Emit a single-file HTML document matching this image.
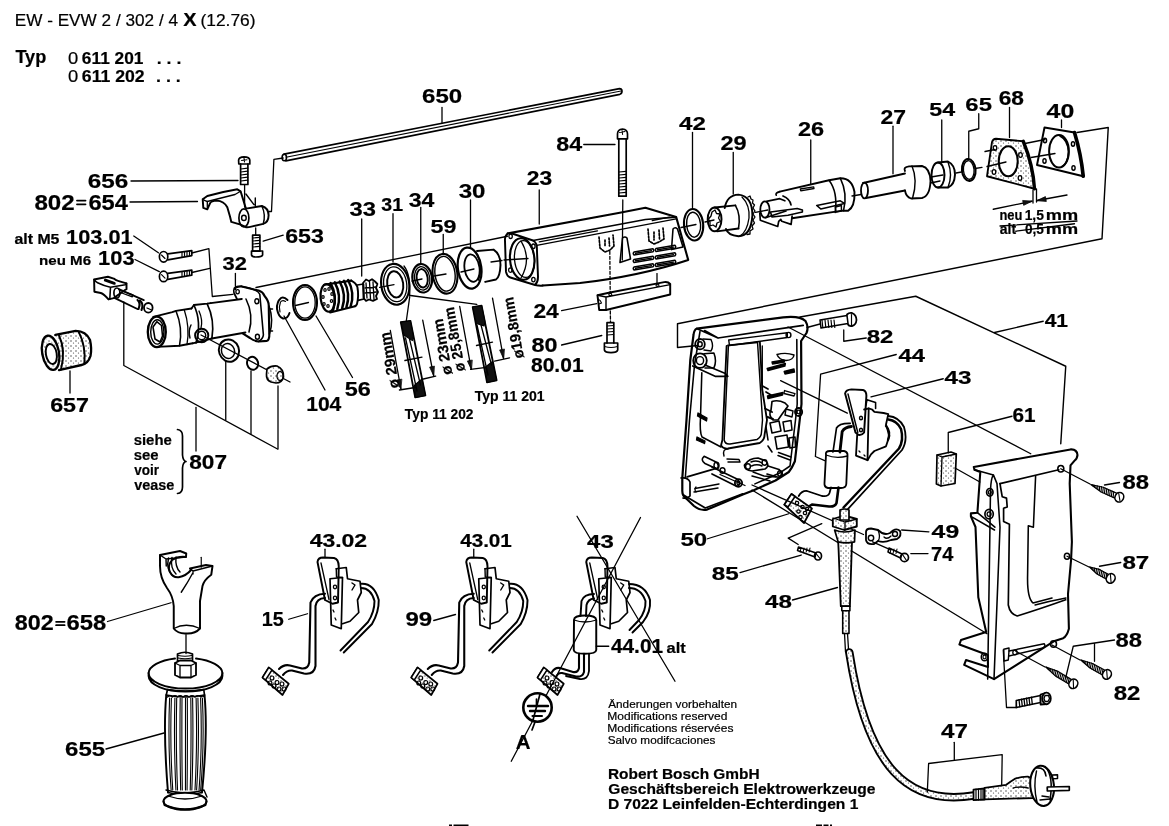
<!DOCTYPE html>
<html><head><meta charset="utf-8"><style>
html,body{margin:0;padding:0;background:#fff;overflow:hidden;}
svg{display:block; will-change:transform;}
text{font-family:"Liberation Sans", sans-serif; fill:#000; stroke:#000; stroke-width:0.2px;}
</style></head><body>
<svg width="1169" height="826" viewBox="0 0 1169 826" stroke="#000" fill="none" stroke-linecap="round" stroke-linejoin="round">
<defs>
<pattern id="dots" width="5" height="5" patternUnits="userSpaceOnUse">
<rect width="5" height="5" fill="#fff" stroke="none"/>
<circle cx="1" cy="1" r="0.7" fill="#333" stroke="none"/>
<circle cx="3.5" cy="3" r="0.6" fill="#444" stroke="none"/>
</pattern>
</defs>
<rect width="1169" height="826" fill="#fff" stroke="none"/>
<text x="14.69" y="26.10" font-size="17" font-weight="400" textLength="163.31" lengthAdjust="spacingAndGlyphs" >EW - EVW 2 / 302 / 4</text>
<text x="183.32" y="26.10" font-size="17.5" font-weight="700" textLength="13.35" lengthAdjust="spacingAndGlyphs" >X</text>
<text x="200.42" y="26.10" font-size="17" font-weight="400" textLength="55.16" lengthAdjust="spacingAndGlyphs" dy="0">(12.76)</text>
<text x="15.40" y="62.80" font-size="17.5" font-weight="700" textLength="30.91" lengthAdjust="spacingAndGlyphs" >Typ</text>
<text x="67.98" y="63.90" font-size="17" font-weight="400" textLength="10.24" lengthAdjust="spacingAndGlyphs" >0</text>
<text x="81.88" y="63.90" font-size="17" font-weight="700" textLength="61.50" lengthAdjust="spacingAndGlyphs" >611 201</text>
<text x="67.98" y="82.30" font-size="17" font-weight="400" textLength="10.24" lengthAdjust="spacingAndGlyphs" >0</text>
<text x="81.86" y="82.30" font-size="17" font-weight="700" textLength="62.83" lengthAdjust="spacingAndGlyphs" >611 202</text>
<text x="156.70" y="63.90" font-size="17" font-weight="700" textLength="24.62" lengthAdjust="spacingAndGlyphs" >. . .</text>
<text x="156.09" y="82.30" font-size="17" font-weight="700" textLength="24.73" lengthAdjust="spacingAndGlyphs" >. . .</text>
<text x="87.86" y="187.50" font-size="20.1" font-weight="700" textLength="40.52" lengthAdjust="spacingAndGlyphs" >656</text>
<text x="34.43" y="210.00" font-size="21.5" font-weight="700" textLength="40.23" lengthAdjust="spacingAndGlyphs" >802</text>
<text x="88.43" y="210.00" font-size="21.5" font-weight="700" textLength="39.49" lengthAdjust="spacingAndGlyphs" >654</text>
<line x1="77" y1="200.6" x2="85.5" y2="200.6" stroke-width="1.82"/>
<line x1="77" y1="204.3" x2="85.5" y2="204.3" stroke-width="1.82"/>
<text x="14.54" y="243.75" font-size="14.1" font-weight="700" textLength="44.91" lengthAdjust="spacingAndGlyphs" >alt M5</text>
<text x="66.13" y="243.75" font-size="20.1" font-weight="700" textLength="66.47" lengthAdjust="spacingAndGlyphs" >103.01</text>
<text x="39.00" y="265.00" font-size="13.1" font-weight="700" textLength="52.04" lengthAdjust="spacingAndGlyphs" >neu M6</text>
<text x="98.13" y="265.00" font-size="19.4" font-weight="700" textLength="36.41" lengthAdjust="spacingAndGlyphs" >103</text>
<text x="222.50" y="269.50" font-size="17.7" font-weight="700" textLength="24.38" lengthAdjust="spacingAndGlyphs" >32</text>
<text x="422.12" y="102.50" font-size="20.5" font-weight="700" textLength="40.12" lengthAdjust="spacingAndGlyphs" >650</text>
<text x="285.15" y="242.50" font-size="20.5" font-weight="700" textLength="38.69" lengthAdjust="spacingAndGlyphs" >653</text>
<text x="349.46" y="216.25" font-size="19.4" font-weight="700" textLength="26.40" lengthAdjust="spacingAndGlyphs" >33</text>
<text x="381.30" y="210.75" font-size="18.7" font-weight="700" textLength="21.74" lengthAdjust="spacingAndGlyphs" >31</text>
<text x="408.72" y="206.75" font-size="20.1" font-weight="700" textLength="25.65" lengthAdjust="spacingAndGlyphs" >34</text>
<text x="430.54" y="232.50" font-size="18.7" font-weight="700" textLength="25.83" lengthAdjust="spacingAndGlyphs" >59</text>
<text x="458.70" y="198.25" font-size="19.4" font-weight="700" textLength="26.79" lengthAdjust="spacingAndGlyphs" >30</text>
<text x="526.71" y="185.00" font-size="20.1" font-weight="700" textLength="25.36" lengthAdjust="spacingAndGlyphs" >23</text>
<text x="556.26" y="150.50" font-size="20.1" font-weight="700" textLength="25.86" lengthAdjust="spacingAndGlyphs" >84</text>
<text x="679.13" y="129.50" font-size="18.7" font-weight="700" textLength="26.83" lengthAdjust="spacingAndGlyphs" >42</text>
<text x="720.43" y="150.00" font-size="19.4" font-weight="700" textLength="26.19" lengthAdjust="spacingAndGlyphs" >29</text>
<text x="797.93" y="136.25" font-size="19.4" font-weight="700" textLength="26.17" lengthAdjust="spacingAndGlyphs" >26</text>
<text x="880.45" y="123.75" font-size="19.4" font-weight="700" textLength="25.56" lengthAdjust="spacingAndGlyphs" >27</text>
<text x="929.29" y="116.25" font-size="18.7" font-weight="700" textLength="25.84" lengthAdjust="spacingAndGlyphs" >54</text>
<text x="965.38" y="111.25" font-size="18.7" font-weight="700" textLength="26.54" lengthAdjust="spacingAndGlyphs" >65</text>
<text x="998.67" y="105.00" font-size="19.4" font-weight="700" textLength="25.28" lengthAdjust="spacingAndGlyphs" >68</text>
<text x="1046.62" y="117.50" font-size="19.4" font-weight="700" textLength="27.65" lengthAdjust="spacingAndGlyphs" >40</text>
<text x="999.40" y="220.00" font-size="14" font-weight="700" textLength="22.95" lengthAdjust="spacingAndGlyphs" >neu</text>
<text x="1024.63" y="220.00" font-size="14" font-weight="700" textLength="19.26" lengthAdjust="spacingAndGlyphs" >1,5</text>
<text x="1045.80" y="220.00" font-size="14" font-weight="700" textLength="32.33" lengthAdjust="spacingAndGlyphs" >mm</text>
<text x="999.84" y="234.25" font-size="14" font-weight="700" textLength="16.33" lengthAdjust="spacingAndGlyphs" >alt</text>
<text x="1024.96" y="234.25" font-size="14" font-weight="700" textLength="18.92" lengthAdjust="spacingAndGlyphs" >0,5</text>
<text x="1045.80" y="234.25" font-size="14" font-weight="700" textLength="32.33" lengthAdjust="spacingAndGlyphs" >mm</text>
<text x="50.15" y="411.75" font-size="19.4" font-weight="700" textLength="38.88" lengthAdjust="spacingAndGlyphs" >657</text>
<text x="306.17" y="410.50" font-size="20.1" font-weight="700" textLength="35.19" lengthAdjust="spacingAndGlyphs" >104</text>
<text x="344.78" y="396.25" font-size="19.4" font-weight="700" textLength="26.07" lengthAdjust="spacingAndGlyphs" >56</text>
<text x="133.73" y="445.00" font-size="14" font-weight="700" textLength="38.03" lengthAdjust="spacingAndGlyphs" >siehe</text>
<text x="133.73" y="460.00" font-size="14" font-weight="700" textLength="24.78" lengthAdjust="spacingAndGlyphs" >see</text>
<text x="134.20" y="475.00" font-size="14" font-weight="700" textLength="24.76" lengthAdjust="spacingAndGlyphs" >voir</text>
<text x="134.19" y="490.00" font-size="14" font-weight="700" textLength="40.05" lengthAdjust="spacingAndGlyphs" >vease</text>
<text x="189.28" y="468.75" font-size="19.4" font-weight="700" textLength="37.71" lengthAdjust="spacingAndGlyphs" >807</text>
<text x="533.41" y="318.10" font-size="19.4" font-weight="700" textLength="25.41" lengthAdjust="spacingAndGlyphs" >24</text>
<text x="531.46" y="352.30" font-size="20.1" font-weight="700" textLength="26.00" lengthAdjust="spacingAndGlyphs" >80</text>
<text x="531.03" y="371.50" font-size="19.9" font-weight="700" textLength="52.55" lengthAdjust="spacingAndGlyphs" >80.01</text>
<text x="404.85" y="419.25" font-size="15" font-weight="700" textLength="68.69" lengthAdjust="spacingAndGlyphs" >Typ 11 202</text>
<text x="474.65" y="400.80" font-size="15" font-weight="700" textLength="70.03" lengthAdjust="spacingAndGlyphs" >Typ 11 201</text>
<text x="866.74" y="342.50" font-size="18.4" font-weight="700" textLength="26.72" lengthAdjust="spacingAndGlyphs" >82</text>
<text x="898.64" y="361.50" font-size="18.4" font-weight="700" textLength="26.49" lengthAdjust="spacingAndGlyphs" >44</text>
<text x="944.63" y="384.25" font-size="18.4" font-weight="700" textLength="26.99" lengthAdjust="spacingAndGlyphs" >43</text>
<text x="1044.68" y="327.00" font-size="18.7" font-weight="700" textLength="23.40" lengthAdjust="spacingAndGlyphs" >41</text>
<text x="1012.49" y="422.00" font-size="19.4" font-weight="700" textLength="23.09" lengthAdjust="spacingAndGlyphs" >61</text>
<text x="1122.49" y="488.75" font-size="19.4" font-weight="700" textLength="26.49" lengthAdjust="spacingAndGlyphs" >88</text>
<text x="1122.48" y="568.75" font-size="18.7" font-weight="700" textLength="26.83" lengthAdjust="spacingAndGlyphs" >87</text>
<text x="931.63" y="538.25" font-size="18.7" font-weight="700" textLength="27.54" lengthAdjust="spacingAndGlyphs" >49</text>
<text x="931.14" y="561.25" font-size="19.4" font-weight="700" textLength="22.22" lengthAdjust="spacingAndGlyphs" >74</text>
<text x="1115.49" y="646.75" font-size="20.1" font-weight="700" textLength="26.49" lengthAdjust="spacingAndGlyphs" >88</text>
<text x="1113.74" y="700.00" font-size="19.4" font-weight="700" textLength="26.72" lengthAdjust="spacingAndGlyphs" >82</text>
<text x="941.13" y="737.50" font-size="20.1" font-weight="700" textLength="26.93" lengthAdjust="spacingAndGlyphs" >47</text>
<text x="680.51" y="545.50" font-size="18.7" font-weight="700" textLength="26.72" lengthAdjust="spacingAndGlyphs" >50</text>
<text x="711.73" y="579.50" font-size="18.7" font-weight="700" textLength="26.94" lengthAdjust="spacingAndGlyphs" >85</text>
<text x="765.13" y="607.50" font-size="18.4" font-weight="700" textLength="26.86" lengthAdjust="spacingAndGlyphs" >48</text>
<text x="309.65" y="546.75" font-size="18.4" font-weight="700" textLength="57.52" lengthAdjust="spacingAndGlyphs" >43.02</text>
<text x="460.19" y="546.75" font-size="18.4" font-weight="700" textLength="51.64" lengthAdjust="spacingAndGlyphs" >43.01</text>
<text x="261.75" y="626.25" font-size="19.4" font-weight="700" textLength="22.05" lengthAdjust="spacingAndGlyphs" >15</text>
<text x="405.42" y="626.25" font-size="19.4" font-weight="700" textLength="26.72" lengthAdjust="spacingAndGlyphs" >99</text>
<text x="587.14" y="547.50" font-size="18.7" font-weight="700" textLength="26.73" lengthAdjust="spacingAndGlyphs" >43</text>
<text x="610.93" y="652.50" font-size="19.4" font-weight="700" textLength="52.15" lengthAdjust="spacingAndGlyphs" >44.01</text>
<text x="666.52" y="652.50" font-size="14" font-weight="700" textLength="19.18" lengthAdjust="spacingAndGlyphs" >alt</text>
<text x="14.86" y="629.90" font-size="21.2" font-weight="700" textLength="38.87" lengthAdjust="spacingAndGlyphs" >802</text>
<text x="66.53" y="629.90" font-size="21.2" font-weight="700" textLength="39.70" lengthAdjust="spacingAndGlyphs" >658</text>
<line x1="56.1" y1="621.8" x2="64.6" y2="621.8" stroke-width="1.82"/>
<line x1="56.1" y1="625.2" x2="64.6" y2="625.2" stroke-width="1.82"/>
<text x="65.12" y="756.25" font-size="20.5" font-weight="700" textLength="40.05" lengthAdjust="spacingAndGlyphs" >655</text>
<text x="515.74" y="748.75" font-size="21" font-weight="700" textLength="14.80" lengthAdjust="spacingAndGlyphs" >A</text>
<text x="608.23" y="707.50" font-size="11" font-weight="400" textLength="128.79" lengthAdjust="spacingAndGlyphs" >Änderungen vorbehalten</text>
<text x="607.26" y="719.50" font-size="11" font-weight="400" textLength="120.26" lengthAdjust="spacingAndGlyphs" >Modifications reserved</text>
<text x="607.26" y="731.75" font-size="11" font-weight="400" textLength="126.17" lengthAdjust="spacingAndGlyphs" >Modifications réservées</text>
<text x="607.72" y="744.25" font-size="11" font-weight="400" textLength="107.71" lengthAdjust="spacingAndGlyphs" >Salvo modifcaciones</text>
<text x="607.97" y="778.70" font-size="14" font-weight="700" textLength="151.67" lengthAdjust="spacingAndGlyphs" >Robert Bosch GmbH</text>
<text x="608.36" y="793.90" font-size="14" font-weight="700" textLength="267.17" lengthAdjust="spacingAndGlyphs" >Geschäftsbereich Elektrowerkzeuge</text>
<text x="607.96" y="809.30" font-size="14" font-weight="700" textLength="250.38" lengthAdjust="spacingAndGlyphs" >D 7022 Leinfelden-Echterdingen 1</text>
<rect x="449" y="824.5" width="3" height="1.5" fill="#000" stroke="none"/>
<rect x="453.5" y="824.5" width="15" height="1.5" fill="#000" stroke="none"/>
<rect x="816" y="824.5" width="6" height="1.5" fill="#000" stroke="none"/>
<rect x="823.5" y="824.5" width="5" height="1.5" fill="#000" stroke="none"/>
<rect x="830" y="824.5" width="2" height="1.5" fill="#000" stroke="none"/>
<line x1="131" y1="181" x2="238" y2="180.5" stroke-width="1.30"/>
<line x1="130" y1="202" x2="197.5" y2="201.5" stroke-width="1.30"/>
<path d="M238.8,164 L238.6,160 Q239,157 244,156.8 Q249.5,157 249.8,160 L249.8,164 Z" stroke-width="1.69" fill="none" />
<path d="M240.6,164 L240.6,184.5 L247.9,184.5 L247.9,164" stroke-width="1.69" fill="none" />
<line x1="240.8" y1="169" x2="247.7" y2="168.2" stroke-width="1.17"/>
<line x1="240.8" y1="172" x2="247.7" y2="171.2" stroke-width="1.17"/>
<line x1="240.8" y1="175" x2="247.7" y2="174.2" stroke-width="1.17"/>
<line x1="240.8" y1="178" x2="247.7" y2="177.2" stroke-width="1.17"/>
<line x1="240.8" y1="181" x2="247.7" y2="180.2" stroke-width="1.17"/>
<path d="M241.5,160.5 L247,159.8 M244,158 L244.5,162" stroke-width="1.04" fill="none" />
<line x1="244.6" y1="185" x2="244.6" y2="207" stroke-width="1.30"/>
<path d="M202.7,199.3 L207.3,196 L223.3,192 L237.3,189.3 L240.6,191.3 L245.9,208.6 L261.9,206 Q268.5,208 268.6,215.3 Q268.5,222.5 263.2,223.9 L251.3,226.6 Q248,227.5 245.9,227.2 L240.6,224.6 L231.3,221.9 L230,216.6 L227.3,207.3 Q224,201 216.6,200.6 Q211,201 210,203.3 L207.3,209.3 L203.3,207.9 Z" stroke-width="1.95" fill="none" />
<path d="M202.7,199.3 Q205,201 207.3,201.5 L235,194.5 L240.6,191.3" stroke-width="1.30" fill="none" />
<path d="M207.3,201.5 L207.3,209.3" stroke-width="1.30" fill="none" />
<ellipse cx="243.9" cy="217.9" rx="5" ry="9" stroke-width="1.69" fill="none"/>
<ellipse cx="243.9" cy="217.9" rx="2.3" ry="2.6" stroke-width="1.43" fill="none"/>
<path d="M261.9,206 Q266,215 263.2,223.9" stroke-width="1.43" fill="none" />
<path d="M245.9,194 L253.9,204.6 M255.3,198 L255.3,206" stroke-width="1.43" fill="none" />
<path d="M283.2,158 L273.9,159.3 L271.5,211.5 L269.2,211.5" stroke-width="1.30" fill="none" />
<line x1="255.7" y1="228" x2="255.7" y2="235" stroke-width="1.30"/>
<path d="M252.6,235.2 L252.6,251.2 L259.9,251.2 L259.9,235.2 Z" stroke-width="1.69" fill="none" />
<line x1="252.8" y1="238" x2="259.7" y2="237.4" stroke-width="1.17"/>
<line x1="252.8" y1="241" x2="259.7" y2="240.4" stroke-width="1.17"/>
<line x1="252.8" y1="244" x2="259.7" y2="243.4" stroke-width="1.17"/>
<line x1="252.8" y1="247" x2="259.7" y2="246.4" stroke-width="1.17"/>
<path d="M251.5,251 L251.5,255 Q252,257 256,257 Q262,257 262.6,255 L262.6,251 Z" stroke-width="1.69" fill="none" />
<line x1="263.2" y1="241.2" x2="283.2" y2="235.2" stroke-width="1.30"/>
<path d="M284,154.2 L619.5,88.6 Q621.8,88.6 622,91 Q622,93.6 619.8,94.3 L285.8,160.8" stroke-width="1.69" fill="none" />
<ellipse cx="284.3" cy="157.5" rx="2.2" ry="3.3" stroke-width="1.56" fill="none"/>
<line x1="286" y1="157.2" x2="621" y2="90.9" stroke-width="1.04"/>
<line x1="442" y1="107.5" x2="442" y2="122.5" stroke-width="1.30"/>
<line x1="133.75" y1="236" x2="158.4" y2="252.8" stroke-width="1.30"/>
<line x1="135" y1="259.5" x2="159.3" y2="271.6" stroke-width="1.30"/>
<ellipse cx="163.6" cy="256.8" rx="4.2" ry="5.3" stroke-width="1.69" fill="none"/>
<path d="M167.8,253.8 L191.8,250.6 L191.8,255.6 L167.8,259.8" stroke-width="1.69" fill="none" />
<line x1="182" y1="252.074" x2="182" y2="256.574" stroke-width="1.17"/>
<line x1="184.5" y1="251.74900000000002" x2="184.5" y2="256.249" stroke-width="1.17"/>
<line x1="187" y1="251.424" x2="187" y2="255.92400000000004" stroke-width="1.17"/>
<line x1="189.5" y1="251.09900000000002" x2="189.5" y2="255.599" stroke-width="1.17"/>
<path d="M161.5,255 L165,258.5" stroke-width="1.17" fill="none" />
<ellipse cx="163.6" cy="276.40000000000003" rx="4.2" ry="5.3" stroke-width="1.69" fill="none"/>
<path d="M167.8,273.40000000000003 L191.8,270.2 L191.8,275.2 L167.8,279.40000000000003" stroke-width="1.69" fill="none" />
<line x1="182" y1="271.67400000000004" x2="182" y2="276.17400000000004" stroke-width="1.17"/>
<line x1="184.5" y1="271.34900000000005" x2="184.5" y2="275.84900000000005" stroke-width="1.17"/>
<line x1="187" y1="271.02400000000006" x2="187" y2="275.52400000000006" stroke-width="1.17"/>
<line x1="189.5" y1="270.699" x2="189.5" y2="275.199" stroke-width="1.17"/>
<path d="M161.5,274.6 L165,278.1" stroke-width="1.17" fill="none" />
<path d="M191.8,253 L208.9,248.6 L212.3,296.5 L232.9,294.4" stroke-width="1.30" fill="none" />
<line x1="191.8" y1="272.5" x2="209.8" y2="268.4" stroke-width="1.30"/>
<line x1="235.4" y1="273.4" x2="235.4" y2="289.6" stroke-width="1.30"/>
<path d="M234.6,288.2 Q237,286 241.8,286.4 L258.6,290.6 Q263,292 264.6,296 Q268.7,301 268.7,305 L269.3,336.1 Q269,340 266.9,340.9 L258.6,341.5 Q254,341 250,338 L243,333.7" stroke-width="2.08" fill="none" />
<path d="M241.8,286.4 Q250,287.5 255,290 Q259,292 259.8,294.2 L263.4,334.9 Q263,339 258.6,341.5" stroke-width="1.56" fill="none" />
<path d="M234.6,288.2 Q233,290 234,293 L237,299" stroke-width="1.69" fill="none" />
<ellipse cx="237.6" cy="291.8" rx="1.7" ry="2.1" stroke-width="1.30" fill="none"/>
<ellipse cx="256.8" cy="301.3" rx="2.0" ry="2.5" stroke-width="1.43" fill="none"/>
<ellipse cx="257.4" cy="336.7" rx="2.0" ry="2.5" stroke-width="1.43" fill="none"/>
<path d="M269,306 Q274,320 269.5,334 M270.5,309 L272.5,309 M270.5,331 L272.5,331" stroke-width="1.56" fill="none" />
<path d="M210.7,303.1 L241.8,299 M211.9,338.5 L245.4,332.5" stroke-width="1.95" fill="none" />
<path d="M246,299 Q254,315 249,332" stroke-width="1.56" fill="none" />
<path d="M191.5,308.5 L193.9,305 L207.1,303.7 L210.7,303.1 M192.7,343.3 L211.9,338.5" stroke-width="1.82" fill="none" />
<path d="M193.9,305 Q202,322 196,343 M207.1,303.7 Q215,320 211.9,338.5" stroke-width="1.69" fill="none" />
<path d="M199,311 Q203,320 201,328" stroke-width="1.30" fill="none" />
<path d="M153.2,316.9 L172.3,312.1 L176,310.9 L191.5,308.5 M156.8,346.9 L179.5,345.7 L192.7,343.3" stroke-width="1.95" fill="none" />
<ellipse cx="156.8" cy="331.9" rx="9.0" ry="15.2" stroke-width="2.34" fill="none"/>
<ellipse cx="157.3" cy="331.9" rx="6.6" ry="12.2" stroke-width="1.43" fill="none"/>
<path d="M156.8,321.7 L161.5,325.5 L162.5,336 L160,342 L155,339 L153,327 Z" stroke-width="1.56" fill="none" />
<path d="M176,311 Q183,328 179.5,345.7" stroke-width="1.56" fill="none" />
<path d="M184.3,310 Q190,327 187,344.5" stroke-width="1.30" fill="none" />
<ellipse cx="201.7" cy="335.5" rx="6.6" ry="6.8" stroke-width="1.95" fill="none"/>
<ellipse cx="201.7" cy="335.5" rx="4.0" ry="4.3" stroke-width="1.43" fill="none"/>
<path d="M191,325 Q188,331 190,338" stroke-width="1.43" fill="none" />
<path d="M94.1,279.5 L107.9,276.7 L113.7,278.6 Q116,280.5 118.8,281.1 L126.5,283.4 L126.5,289.2 L125,290 L113.7,298.1 L108.5,299.4 Q104,294 100.8,293 L94.4,291.7 Z" stroke-width="1.95" fill="none" />
<path d="M94.1,279.5 Q96,282 97.6,282.8 Q104,286 110.5,287.2 L125.2,284.7 L126.5,283.4 M110.5,287.2 L109.8,299" stroke-width="1.56" fill="none" />
<path d="M105.3,280.2 L114.3,283.4" stroke-width="2.86" fill="none" />
<ellipse cx="116.9" cy="293" rx="3" ry="5" stroke-width="1.69" fill="none"/>
<path d="M118.8,289.2 L143.8,300.1 M114.9,298.1 L137.4,309" stroke-width="1.82" fill="none" />
<path d="M120.7,290.5 L132.9,294.9 L132.3,296.9 L120.5,292.5" stroke-width="1.30" fill="none" />
<path d="M137.5,300 Q141,303 138.5,309 M140,300.5 Q144,304 141.5,310" stroke-width="2.08" fill="none" />
<ellipse cx="148.3" cy="307.8" rx="4.3" ry="4.8" stroke-width="1.82" fill="none"/>
<path d="M147,308 L151.5,310" stroke-width="1.30" fill="none" />
<path d="M123.8,302 L123.8,365.5 L277.5,449" stroke-width="1.30" fill="none" />
<line x1="196" y1="407.5" x2="196" y2="451" stroke-width="1.30"/>
<line x1="225.75" y1="361" x2="225.75" y2="420" stroke-width="1.30"/>
<line x1="251" y1="371" x2="251" y2="434" stroke-width="1.30"/>
<line x1="278" y1="386" x2="278" y2="449" stroke-width="1.30"/>
<line x1="201" y1="335" x2="290" y2="382" stroke-width="1.30"/>
<ellipse cx="229" cy="350.6" rx="10" ry="11.3" stroke-width="1.95" fill="none" transform="rotate(-20 229 350.6)"/>
<ellipse cx="228" cy="351" rx="6.5" ry="7.5" stroke-width="1.43" fill="none" transform="rotate(-20 228 351)"/>
<ellipse cx="252.6" cy="363.3" rx="5.5" ry="6.5" stroke-width="1.95" fill="none" transform="rotate(-15 252.6 363.3)"/>
<path d="M267,369 Q271,365.5 277,366 Q284,369 283.5,377 Q282,383 276,383 L271,382 Q266,380 266.5,374 Z" stroke-width="1.69" fill="url(#dots)" />
<ellipse cx="280" cy="376" rx="3" ry="4.5" stroke-width="1.30" fill="none"/>
<path d="M55.3,334.9 L75.7,330.9 Q86,331 90,340 Q92,349 90.5,356 Q88,364 81.5,365 L59,370.1" stroke-width="2.34" fill="url(#dots)" />
<path d="M78.6,331.6 Q86,346 84.4,363.6" stroke-width="1.95" fill="none" />
<path d="M59,335.5 Q66,350 61,369.5" stroke-width="1.95" fill="none" />
<ellipse cx="50.6" cy="352.8" rx="8.4" ry="17.3" stroke-width="2.34" fill="url(#dots)" transform="rotate(-10 50.6 352.8)"/>
<ellipse cx="51.3" cy="354" rx="5.4" ry="10.2" stroke-width="1.95" fill="#fff" transform="rotate(-10 51.3 354)"/>
<line x1="70" y1="371" x2="70" y2="393" stroke-width="1.30"/>
<path d="M177.5,429.5 Q182.5,430 182.5,436 L182.5,455 Q183,461 186,461.5 Q183,462 182.5,468 L182.5,487 Q182.5,493 177.5,493.5" stroke-width="1.69" fill="none" />
<line x1="256" y1="287.5" x2="507.5" y2="236.25" stroke-width="1.30"/>
<path d="M287.5,300 Q284,296.5 281,298 Q276.5,302 277,309 Q278.5,317 283,318.5 Q287.5,319 289.5,313" stroke-width="1.95" fill="none" />
<path d="M285.5,301.5 Q282.5,299.5 280.5,302 Q278.5,307 280,312" stroke-width="1.17" fill="none" />
<line x1="284" y1="316" x2="325" y2="390" stroke-width="1.30"/>
<ellipse cx="305" cy="302.5" rx="12" ry="17.5" stroke-width="2.08" fill="none"/>
<ellipse cx="305" cy="302.5" rx="10.2" ry="15.6" stroke-width="1.30" fill="none"/>
<line x1="316" y1="316" x2="352.5" y2="377.5" stroke-width="1.30"/>
<line x1="295.5" y1="305.5" x2="308.5" y2="302.5" stroke-width="1.30"/>
<path d="M324.1,284.8 L351.3,280.6 M330.1,312.4 L355,306.3" stroke-width="2.08" fill="none" />
<ellipse cx="327.7" cy="297.9" rx="7.1" ry="13.9" stroke-width="2.21" fill="none" transform="rotate(-6 327.7 297.9)"/>
<path d="M351.3,280.6 Q356,283 357.4,287 Q359,296 357,304 Q356,306 355,306.3" stroke-width="1.95" fill="none" />
<path d="M330.6,283.118 Q337.6,296.118 333.1,310.02979999999997" stroke-width="2.47" fill="none" />
<path d="M334.8,282.362 Q341.8,295.362 337.3,309.1982" stroke-width="2.47" fill="none" />
<path d="M339.7,281.48 Q346.7,294.48 342.2,308.228" stroke-width="2.47" fill="none" />
<path d="M343.9,280.724 Q350.9,293.724 346.4,307.3964" stroke-width="2.47" fill="none" />
<path d="M348.1,279.968 Q355.1,292.968 350.6,306.5648" stroke-width="2.47" fill="none" />
<ellipse cx="325" cy="290" rx="1.2" ry="1.3" stroke-width="1.17" fill="none"/>
<ellipse cx="329" cy="289" rx="1.2" ry="1.3" stroke-width="1.17" fill="none"/>
<ellipse cx="332" cy="294" rx="1.2" ry="1.3" stroke-width="1.17" fill="none"/>
<ellipse cx="331.5" cy="301" rx="1.2" ry="1.3" stroke-width="1.17" fill="none"/>
<ellipse cx="328" cy="306" rx="1.2" ry="1.3" stroke-width="1.17" fill="none"/>
<ellipse cx="324" cy="304" rx="1.2" ry="1.3" stroke-width="1.17" fill="none"/>
<ellipse cx="323" cy="297" rx="1.2" ry="1.3" stroke-width="1.17" fill="none"/>
<path d="M357.4,285 L363.5,284 L364,299 L358,300.3" stroke-width="1.69" fill="none" />
<path d="M363,283 L366,279.5 L369,281 L372,279.2 L375,281.5 L377.4,284 L376,288 L378,292 L376,296 L377,299 L373,300.9 L369,299.5 L366,300.9 L363.5,298 Z" stroke-width="1.82" fill="none" />
<path d="M366,283 L367,298 M369.5,281.5 L370.5,299 M373,282 L374,299.5 M365,288 L376,287 M365,293 L376.5,292" stroke-width="1.30" fill="none" />
<line x1="361.7" y1="219" x2="361.7" y2="276" stroke-width="1.30"/>
<ellipse cx="395.2" cy="284.3" rx="14" ry="20.5" stroke-width="2.08" fill="none" transform="rotate(-8 395.2 284.3)"/>
<ellipse cx="395.2" cy="284.3" rx="11.5" ry="17.5" stroke-width="1.30" fill="none" transform="rotate(-8 395.2 284.3)"/>
<ellipse cx="395.2" cy="284.3" rx="8" ry="13.2" stroke-width="1.95" fill="none" transform="rotate(-8 395.2 284.3)"/>
<path d="M404,266 Q411,275 409.6,296" stroke-width="1.30" fill="none" />
<line x1="379.6" y1="287.3" x2="394" y2="284.6" stroke-width="1.30"/>
<line x1="393" y1="213.75" x2="393" y2="262" stroke-width="1.30"/>
<ellipse cx="422.2" cy="278.3" rx="9.8" ry="14.3" stroke-width="2.08" fill="none" transform="rotate(-8 422.2 278.3)"/>
<ellipse cx="422.2" cy="278.3" rx="7.6" ry="11.8" stroke-width="1.30" fill="none" transform="rotate(-8 422.2 278.3)"/>
<ellipse cx="422.2" cy="278.3" rx="5.5" ry="9.3" stroke-width="1.95" fill="none" transform="rotate(-8 422.2 278.3)"/>
<line x1="412" y1="281" x2="422" y2="279" stroke-width="1.30"/>
<line x1="420.75" y1="207.5" x2="420.75" y2="263.5" stroke-width="1.30"/>
<ellipse cx="445" cy="273.75" rx="12.3" ry="20" stroke-width="2.08" fill="none" transform="rotate(-8 445 273.75)"/>
<ellipse cx="445" cy="273.75" rx="10" ry="17.5" stroke-width="1.43" fill="none" transform="rotate(-8 445 273.75)"/>
<line x1="434" y1="276" x2="446" y2="274" stroke-width="1.30"/>
<line x1="443.25" y1="234.5" x2="443.25" y2="254.5" stroke-width="1.30"/>
<path d="M477,251 L493.6,249.6 Q500.5,254 500.5,265 Q500,277 496,279.5 L485.2,281.9" stroke-width="1.95" fill="none" />
<ellipse cx="469.6" cy="268.1" rx="11.7" ry="20.7" stroke-width="2.21" fill="none" transform="rotate(-8 469.6 268.1)"/>
<ellipse cx="472" cy="268.1" rx="7.5" ry="13.8" stroke-width="1.82" fill="none" transform="rotate(-8 472 268.1)"/>
<path d="M477.5,255 Q483,267 478.5,280" stroke-width="1.43" fill="none" />
<line x1="461" y1="272" x2="474" y2="269" stroke-width="1.30"/>
<line x1="470.5" y1="200" x2="470.5" y2="248" stroke-width="1.30"/>
<line x1="410.4" y1="295.5" x2="476.8" y2="304.4" stroke-width="1.30"/>
<line x1="409.7" y1="296.8" x2="406.3" y2="321" stroke-width="1.30"/>
<path d="M400.8,322.2 L410.4,320.8 L425.4,395.4 L415.2,397.4 Z" stroke-width="1.82" fill="none" />
<path d="M400.8,322.2 L410.4,320.8 L413.5,336.6 L412.4,340.6 L404.2,335.2 Z" stroke-width="1.04" fill="#111" />
<path d="M414.5,385.1 L422,379 L425.4,395.4 L415.2,397.4 Z" stroke-width="1.04" fill="#111" />
<path d="M405.5,338 L417,391 M409.5,339 L420.5,385" stroke-width="1.30" fill="none" />
<line x1="404.9" y1="360.5" x2="422" y2="357.1" stroke-width="1.30"/>
<path d="M472.7,307.1 L481.6,305.7 L496.6,380.3 L487,382.4 Z" stroke-width="1.82" fill="none" />
<path d="M472.7,307.1 L481.6,305.7 L485,322 L484,326 L476.5,323.5 Z" stroke-width="1.04" fill="#111" />
<path d="M485.5,367 L492.5,361.5 L496.6,380.3 L487,382.4 Z" stroke-width="1.04" fill="#111" />
<path d="M477,325 L488,375 M481,325 L491.5,365" stroke-width="1.30" fill="none" />
<line x1="476.5" y1="345.5" x2="492.5" y2="342.2" stroke-width="1.30"/>
<line x1="390.3" y1="330.4" x2="400.8" y2="388.5" stroke-width="1.30"/>
<path d="M400.8,388.5 L396.94,380.05 L401.46,379.23 Z" stroke-width="0.78" fill="#111" />
<line x1="399.4" y1="390" x2="415.2" y2="387.5" stroke-width="1.30"/>
<line x1="423.4" y1="379" x2="435.7" y2="376.2" stroke-width="1.30"/>
<line x1="422.7" y1="320.1" x2="433.6" y2="375.5" stroke-width="1.30"/>
<path d="M433.6,375.5 L429.61,367.11 L434.12,366.23 Z" stroke-width="0.78" fill="#111" />
<line x1="459.7" y1="306.4" x2="471.3" y2="369.4" stroke-width="1.30"/>
<path d="M471.3,369.4 L467.41,360.97 L471.93,360.13 Z" stroke-width="0.78" fill="#111" />
<line x1="470.6" y1="369.4" x2="486.3" y2="367.3" stroke-width="1.30"/>
<line x1="492.5" y1="298.2" x2="503.5" y2="358.4" stroke-width="1.30"/>
<path d="M503.5,358.4 L499.62,349.96 L504.14,349.13 Z" stroke-width="0.78" fill="#111" />
<line x1="494.6" y1="361.2" x2="509.6" y2="357.8" stroke-width="1.30"/>
<text x="0" y="0" font-size="15" font-weight="700" text-anchor="middle" textLength="57" lengthAdjust="spacingAndGlyphs" transform="translate(394.5 359.5) rotate(-100)">ø 29mm</text>
<text x="0" y="0" font-size="15" font-weight="700" text-anchor="middle" textLength="57" lengthAdjust="spacingAndGlyphs" transform="translate(447.5 346) rotate(-100)">ø 23mm</text>
<text x="0" y="0" font-size="15" font-weight="700" text-anchor="middle" textLength="65" lengthAdjust="spacingAndGlyphs" transform="translate(459.5 338.5) rotate(-100)">ø 25,8mm</text>
<text x="0" y="0" font-size="15" font-weight="700" text-anchor="middle" textLength="62" lengthAdjust="spacingAndGlyphs" transform="translate(518.5 327) rotate(-100)">ø19,8mm</text>
<line x1="539.25" y1="190" x2="539.25" y2="224" stroke-width="1.30"/>
<path d="M507.7,233.4 L619.8,212.8 L645.4,207.7 L676.2,217.1 L688.2,259.9 Q640,276 580,283 L542.8,285.5" stroke-width="2.08" fill="none" />
<path d="M507.7,233.4 Q504.5,236 505,241 L506,271.9 Q507,276.5 510.3,277.5 L535.1,285 Q540,286 542.8,285.5 M535.1,285 Q538,282 538,277 L536.8,246 Q536,242 533,240.5 L512,233.5 Q509,232.8 507.7,233.4" stroke-width="1.95" fill="none" />
<path d="M533,240.5 L645.4,219.5 L676.2,217.1" stroke-width="1.69" fill="none" />
<path d="M536.8,245.3 L676.2,218.8" stroke-width="1.30" fill="none" />
<path d="M539.3,241.9 L597.5,230.8 M652.3,220.5 L669.4,217.1" stroke-width="1.30" fill="none" />
<ellipse cx="522.2" cy="259" rx="12.2" ry="20.9" stroke-width="2.08" fill="none" transform="rotate(-5 522.2 259)"/>
<ellipse cx="524.5" cy="259" rx="10" ry="18.5" stroke-width="1.30" fill="none" transform="rotate(-5 524.5 259)"/>
<path d="M521,241 Q532,259 521,278" stroke-width="1.30" fill="none" />
<ellipse cx="510.6" cy="236.3" rx="1.7" ry="2.2" stroke-width="1.30" fill="none"/>
<ellipse cx="533.4" cy="246.2" rx="1.7" ry="2.2" stroke-width="1.30" fill="none"/>
<ellipse cx="533.4" cy="279.6" rx="1.7" ry="2.2" stroke-width="1.30" fill="none"/>
<ellipse cx="510.3" cy="270.1" rx="1.7" ry="2.2" stroke-width="1.30" fill="none"/>
<line x1="504" y1="260" x2="528" y2="258.5" stroke-width="1.30"/>
<line x1="491" y1="262" x2="502" y2="260.5" stroke-width="1.30"/>
<path d="M620,262.4 L622.5,238 Q625,236 627,238 L630.5,259 Z" stroke-width="1.56" fill="none" />
<path d="M671.5,249.6 L673,229 Q675,226.5 677.5,229 L683,247 Z" stroke-width="1.56" fill="none" />
<path d="M634.0,252.0 L653.0,248.8 Q654.5,250.1 653.0,251.8 L634.0,255.0 Q632.5,253.5 634.0,252.0 Z" stroke-width="1.43" fill="none" />
<path d="M635.5,253.3 L651.5,250.6" stroke-width="1.43" fill="none" />
<path d="M656.0,248.5 L675.0,245.3 Q676.5,246.6 675.0,248.3 L656.0,251.5 Q654.5,250.0 656.0,248.5 Z" stroke-width="1.43" fill="none" />
<path d="M657.5,249.8 L673.5,247.1" stroke-width="1.43" fill="none" />
<path d="M634.0,259.5 L653.0,256.3 Q654.5,257.6 653.0,259.3 L634.0,262.5 Q632.5,261.0 634.0,259.5 Z" stroke-width="1.43" fill="none" />
<path d="M635.5,260.8 L651.5,258.1" stroke-width="1.43" fill="none" />
<path d="M656.0,256.0 L675.0,252.8 Q676.5,254.1 675.0,255.8 L656.0,259.0 Q654.5,257.5 656.0,256.0 Z" stroke-width="1.43" fill="none" />
<path d="M657.5,257.3 L673.5,254.6" stroke-width="1.43" fill="none" />
<path d="M634.0,267.0 L653.0,263.8 Q654.5,265.1 653.0,266.8 L634.0,270.0 Q632.5,268.5 634.0,267.0 Z" stroke-width="1.43" fill="none" />
<path d="M635.5,268.3 L651.5,265.6" stroke-width="1.43" fill="none" />
<path d="M656.0,263.5 L675.0,260.3 Q676.5,261.6 675.0,263.3 L656.0,266.5 Q654.5,265.0 656.0,263.5 Z" stroke-width="1.43" fill="none" />
<path d="M657.5,264.8 L673.5,262.1" stroke-width="1.43" fill="none" />
<g stroke-dasharray="2 1.5" stroke-width="0.9">
<path d="M599,237 L600,248 L605,252 L610,250 L614,246 L613,235 M605,240 L605,247 M609,238 L609.5,246" stroke-width="1.69" fill="none" />
<path d="M648,229 L649,241 L654,244 L659,242 L664,239 L663,228 M654,232 L654,240 M659,230 L659.5,239" stroke-width="1.69" fill="none" />
</g>
<path d="M617.5,134 Q617.5,129.5 622.5,129 Q627.5,129.5 627.5,134 L627.5,138.8 L617.5,138.8 Z" stroke-width="1.69" fill="none" />
<path d="M619.5,132.5 L625,131.5 M622,130.5 L622.6,134.5" stroke-width="1.04" fill="none" />
<path d="M618.8,138.8 L618.8,196.2 L626.2,196.2 L626.2,138.8" stroke-width="1.69" fill="none" />
<line x1="619" y1="172" x2="626" y2="171.4" stroke-width="1.17"/>
<line x1="619" y1="175" x2="626" y2="174.4" stroke-width="1.17"/>
<line x1="619" y1="178" x2="626" y2="177.4" stroke-width="1.17"/>
<line x1="619" y1="181" x2="626" y2="180.4" stroke-width="1.17"/>
<line x1="619" y1="184" x2="626" y2="183.4" stroke-width="1.17"/>
<line x1="619" y1="187" x2="626" y2="186.4" stroke-width="1.17"/>
<line x1="619" y1="190" x2="626" y2="189.4" stroke-width="1.17"/>
<line x1="619" y1="193" x2="626" y2="192.4" stroke-width="1.17"/>
<line x1="583.75" y1="144.5" x2="615" y2="144.5" stroke-width="1.30"/>
<line x1="622.8" y1="200" x2="622.3" y2="260" stroke-width="1.30"/>
<g stroke-dasharray="3 2" stroke-width="1.0">
<line x1="609.8" y1="251.3" x2="610.2" y2="292" stroke-width="1.30"/>
<line x1="610.3" y1="311" x2="610.5" y2="322" stroke-width="1.30"/>
</g>
<line x1="657" y1="273.6" x2="657" y2="284.7" stroke-width="1.30"/>
<path d="M597.5,295.3 L610,292.5 L664.2,282.1 Q668,281.5 670.2,284 L670.2,294.5 L606,310 L599.2,310 Z" stroke-width="1.95" fill="none" />
<path d="M606,297 L670.2,284.6 M606,297 L606,310 M597.5,295.3 L606,297" stroke-width="1.43" fill="none" />
<path d="M598,299 Q601,300.5 601.5,303 L599,304" stroke-width="1.17" fill="none" />
<ellipse cx="610.3" cy="294.6" rx="1.5" ry="1.2" stroke-width="1.17" fill="none"/>
<ellipse cx="657.5" cy="285.2" rx="1.5" ry="1.2" stroke-width="1.17" fill="none"/>
<line x1="561.6" y1="310.7" x2="596.7" y2="303.6" stroke-width="1.30"/>
<path d="M607,343 L607,322.7 L613.8,322.7 L613.8,343" stroke-width="1.69" fill="none" />
<line x1="607.2" y1="326" x2="613.6" y2="325.5" stroke-width="1.17"/>
<line x1="607.2" y1="329" x2="613.6" y2="328.5" stroke-width="1.17"/>
<line x1="607.2" y1="332" x2="613.6" y2="331.5" stroke-width="1.17"/>
<line x1="607.2" y1="335" x2="613.6" y2="334.5" stroke-width="1.17"/>
<path d="M604.4,343 L617.7,343 L617.7,350 Q617,352.6 611,352.6 Q605,352.6 604.4,350 Z" stroke-width="1.69" fill="none" />
<path d="M604.6,346.5 Q611,348.5 617.5,346.5" stroke-width="1.04" fill="none" />
<line x1="561.6" y1="345" x2="601.8" y2="335.5" stroke-width="1.30"/>
<line x1="692.5" y1="132.5" x2="692.5" y2="207.5" stroke-width="1.30"/>
<ellipse cx="693.6" cy="224.7" rx="9.6" ry="15.8" stroke-width="2.08" fill="none" transform="rotate(-5 693.6 224.7)"/>
<ellipse cx="693.6" cy="224.7" rx="7.0" ry="12.5" stroke-width="1.43" fill="none" transform="rotate(-5 693.6 224.7)"/>
<line x1="681" y1="227.5" x2="696" y2="224.5" stroke-width="1.30"/>
<line x1="733.25" y1="152.5" x2="733.25" y2="194" stroke-width="1.30"/>
<path d="M724.7,208 Q727,195 738.5,194.6 Q752.4,196 752.4,215.4 Q751,236.2 738.5,236.2 Q728,235.5 726,229" stroke-width="1.95" fill="none" />
<path d="M748,197 L750,196 L751,199 L753,200 L752.5,203 L754.5,205 L753,208 L755,211 L753,214 L755,217 L753,220 L754.5,223 L752,226 L753,229 L750,231 L750,234 L747,234.5" stroke-width="1.30" fill="none" />
<path d="M742,197 Q750,205 749,218 Q747,232 740,236" stroke-width="1.30" fill="none" />
<path d="M714.6,207.5 L735.4,205.4 M717,231.3 L738.5,228.5" stroke-width="1.82" fill="none" />
<path d="M735.4,205.4 Q741,215 738.5,228.5" stroke-width="1.56" fill="none" />
<ellipse cx="714.6" cy="219.3" rx="6.9" ry="11.9" stroke-width="1.95" fill="none"/>
<path d="M712,212 L715,210 L716.5,213.5 L720,214 L718.5,218 L720.5,221.5 L717,223 L716,227 L713,225 L710,226 L710,222 L708.5,219 L711,216 Z" stroke-width="1.30" fill="none" />
<line x1="705" y1="222" x2="714" y2="220" stroke-width="1.30"/>
<line x1="755.5" y1="212.4" x2="767.8" y2="210" stroke-width="1.30"/>
<line x1="810.75" y1="140" x2="810.75" y2="183.75" stroke-width="1.30"/>
<path d="M779.8,191.6 L829,180.3 L840.3,178.2 Q852,178 854.5,192 Q855,207 848,210.8 L842.4,210.6 L792.1,218.3" stroke-width="1.95" fill="none" />
<path d="M829,180.3 Q838,192 835.2,212.5 M840.3,178.2 Q848,194 843.5,210.8" stroke-width="1.56" fill="none" />
<path d="M779.8,191.6 Q775,193 776.2,195.2 M783,196 Q790,199 791,204.9" stroke-width="1.69" fill="none" />
<ellipse cx="764.9" cy="209.5" rx="4.6" ry="8.2" stroke-width="1.82" fill="none"/>
<path d="M766.4,201.3 L779.8,198.7 L784.9,200.8 M765.5,217.7 L786,211" stroke-width="1.69" fill="none" />
<path d="M759.8,213.1 L760.3,220.3 L777.7,226.5 L778.7,221.3 L780.8,219.3 L781.8,221.3 L791.1,224.4 L792.1,216.2" stroke-width="1.69" fill="none" />
<path d="M770.5,212.1 L797.2,208.5 L802.4,210 L802.4,212.1 L788,215.2 L772,217 Z" stroke-width="1.56" fill="none" />
<path d="M816.7,205.4 L840.3,200.8 L844.5,203.4 L820.8,209 Z" stroke-width="1.56" fill="none" />
<path d="M835.2,207 L841.4,205.5 L841.4,211 L836,212.1 Z" stroke-width="1.43" fill="none" />
<path d="M800.3,189 L813.7,186.9 L814,188.5 L800.8,190.8 Z" stroke-width="1.30" fill="none" />
<line x1="852" y1="196" x2="861" y2="194.5" stroke-width="1.30"/>
<line x1="893" y1="126.25" x2="893" y2="173.75" stroke-width="1.30"/>
<path d="M863,183 L905,173.5 M866,198 L905,190.5" stroke-width="1.82" fill="none" />
<ellipse cx="864.5" cy="190.5" rx="3.5" ry="7.8" stroke-width="1.82" fill="none"/>
<path d="M905,171 Q903,167 909,166.3 L922,166 Q930,168 930.5,181 Q930,196 922,198 L911,198.5 Q906,197 905,190.5" stroke-width="1.82" fill="none" />
<path d="M912,166 Q918,180 912.5,198.5" stroke-width="1.43" fill="none" />
<line x1="930.5" y1="183" x2="940" y2="181" stroke-width="1.30"/>
<line x1="941.75" y1="120" x2="941.75" y2="161.25" stroke-width="1.30"/>
<path d="M938,162.5 L948,161.5 Q955,165 955,174.5 Q954.5,185 948,187.5 L938,187.5" stroke-width="1.95" fill="none" />
<ellipse cx="938" cy="175" rx="6.5" ry="12.5" stroke-width="1.95" fill="none"/>
<path d="M948,162 Q953,175 948,187.5" stroke-width="1.43" fill="none" />
<line x1="931" y1="177" x2="943" y2="175" stroke-width="1.30"/>
<path d="M978.75,113.75 L978.75,128.75 L968.75,131.25 L968.75,158.75" stroke-width="1.30" fill="none" />
<ellipse cx="968.75" cy="170" rx="6.8" ry="11" stroke-width="2.08" fill="none" transform="rotate(-5 968.75 170)"/>
<ellipse cx="968.75" cy="170" rx="5.3" ry="9.3" stroke-width="1.30" fill="none" transform="rotate(-5 968.75 170)"/>
<line x1="956" y1="173" x2="961.5" y2="172" stroke-width="1.30"/>
<line x1="1009.5" y1="107.5" x2="1009.5" y2="137.5" stroke-width="1.30"/>
<path d="M996,138.75 L1023.25,141.25 Q1033,165 1034.5,188.75 L987,176.25 L992,142 Q993,139 996,138.75 Z" stroke-width="1.82" fill="url(#dots)" />
<path d="M1023.25,141.25 Q1033,165 1034.5,188.75" stroke-width="3.38" fill="none" />
<ellipse cx="1008.25" cy="161.25" rx="9.5" ry="15" stroke-width="2.08" fill="#fff"/>
<ellipse cx="995" cy="148" rx="1.8" ry="2.3" stroke-width="1.30" fill="#fff"/>
<ellipse cx="1020.5" cy="155" rx="1.8" ry="2.3" stroke-width="1.30" fill="#fff"/>
<ellipse cx="994" cy="172" rx="1.8" ry="2.3" stroke-width="1.30" fill="#fff"/>
<ellipse cx="1020" cy="178" rx="1.8" ry="2.3" stroke-width="1.30" fill="#fff"/>
<line x1="987" y1="166.5" x2="1006" y2="162" stroke-width="1.30"/>
<line x1="975" y1="168.5" x2="982" y2="167.3" stroke-width="1.30"/>
<line x1="985" y1="151.5" x2="995" y2="149.5" stroke-width="1.30"/>
<line x1="1025" y1="143.5" x2="1045" y2="139.5" stroke-width="1.30"/>
<line x1="1031" y1="157.5" x2="1055" y2="153.5" stroke-width="1.30"/>
<line x1="1061.5" y1="120" x2="1061.5" y2="127.5" stroke-width="1.30"/>
<path d="M1044.5,127.5 L1074.5,132.5 Q1081,154 1083.25,176.25 L1037,165 Z" stroke-width="1.95" fill="none" />
<path d="M1074.5,132.5 Q1081,154 1083.25,176.25" stroke-width="3.64" fill="none" />
<ellipse cx="1059" cy="151.2" rx="9.9" ry="16.2" stroke-width="1.95" fill="none"/>
<path d="M1060,136 Q1068,140 1068.5,152 Q1068,164 1062,166.5" stroke-width="1.69" fill="none" />
<ellipse cx="1045" cy="140.5" rx="1.6" ry="2.2" stroke-width="1.43" fill="none"/>
<ellipse cx="1073" cy="144" rx="1.6" ry="2.2" stroke-width="1.43" fill="none"/>
<ellipse cx="1044.5" cy="161" rx="1.6" ry="2.2" stroke-width="1.43" fill="none"/>
<ellipse cx="1073.5" cy="168" rx="1.6" ry="2.2" stroke-width="1.43" fill="none"/>
<path d="M1077,132.5 L1108.25,127.5 L1102,238.75 L677.5,323.75 L677.5,347.5 L697.5,345.5" stroke-width="1.43" fill="none" />
<line x1="993.25" y1="209.25" x2="1032" y2="201.25" stroke-width="1.30"/>
<path d="M1032,201.25 L1023.65,205.32 L1022.72,200.82 Z" stroke-width="0.78" fill="#111" />
<line x1="1067" y1="195" x2="1037" y2="200.5" stroke-width="1.30"/>
<path d="M1037,200.5 L1045.44,196.61 L1046.27,201.14 Z" stroke-width="0.78" fill="#111" />
<line x1="1033" y1="190" x2="1033" y2="203" stroke-width="1.30"/>
<line x1="1036.5" y1="189" x2="1036.5" y2="202" stroke-width="1.30"/>
<line x1="1000" y1="226" x2="1077" y2="221" stroke-width="1.30"/>
<line x1="1015.75" y1="231.25" x2="1074.5" y2="223.75" stroke-width="1.30"/>
<path d="M696.6,328.6 L783.2,317.3 Q800,315.5 805.5,321 Q809,327 806.5,333 L801.1,341 L801.5,404 L799.7,420 L794.9,461.2 Q792,468 788.8,472 L775.5,480.5 L753.7,490.2 L742.8,494.5 L707.1,509.6 Q700,511 694,506 L686.5,498.7 Q682,496 682.3,490 L682.3,478.1 L686.5,420 L690.3,360 L693.5,335 Q694,330 696.6,328.6 Z" stroke-width="2.21" fill="none" />
<path d="M700,331.5 L694.5,365 L689.5,420 L685.3,478" stroke-width="1.56" fill="none" />
<path d="M704.6,330.6 L718,338 L803.2,325.3 M718,338 L696.6,328.6" stroke-width="1.69" fill="none" />
<path d="M728.7,340 L729.5,345.5 L787.3,337.5 L787.3,332.7 Z" stroke-width="1.43" fill="none" />
<ellipse cx="788.5" cy="335" rx="2.4" ry="2.6" stroke-width="1.43" fill="none"/>
<path d="M796.8,339.5 L797.2,404 L795.5,420 L790,466 L779.1,473.3 L754.9,483.9" stroke-width="1.56" fill="none" />
<ellipse cx="700" cy="344.2" rx="4.8" ry="5.2" stroke-width="1.82" fill="none"/>
<ellipse cx="700" cy="344.2" rx="2.2" ry="2.5" stroke-width="1.43" fill="none"/>
<path d="M703,339 L711,339.5 Q714,346 711,351 L704,350" stroke-width="1.43" fill="none" />
<ellipse cx="700" cy="360.6" rx="6.8" ry="7.3" stroke-width="1.82" fill="none"/>
<ellipse cx="700" cy="360.6" rx="3.6" ry="4" stroke-width="1.43" fill="none"/>
<path d="M704,353.8 L713.9,353 Q717,361 713.9,368 L705,368" stroke-width="1.56" fill="none" />
<path d="M692.7,366 L715.1,376.3 L727.8,376.3 L725.4,373.5 L705,365" stroke-width="1.69" fill="none" />
<path d="M701.8,372.7 L700.5,417.5 Q699.5,432 702,437 L721,447" stroke-width="1.56" fill="none" />
<path d="M698,413 L707,418 L706.5,421 L697.5,416 Z" stroke-width="1.30" fill="#000" />
<path d="M697,437 L705,441 L704.5,443.5 L696.5,440 Z" stroke-width="1.30" fill="#000" />
<path d="M726.6,346 L722.4,440 L721,445.4 Q723,449 728,448.5 L759.7,443 Q764.6,440 764.6,434.5 L767,420 L762.3,390 L759.9,342" stroke-width="1.82" fill="none" />
<path d="M728.4,346 L724.2,440 Q725,444.5 730,444 L757,439.5 Q761.5,437 761.5,432 L762.5,420 L757.5,342" stroke-width="1.43" fill="none" />
<path d="M727.8,345.4 L757.5,342.4" stroke-width="1.56" fill="none" />
<path d="M762.3,346 L762.3,390" stroke-width="1.30" fill="none" />
<path d="M777,354.5 Q786,352 794,355 Q793.5,360 786,360.5 Q779,360 777,354.5 Z" stroke-width="1.43" fill="none" />
<path d="M767.2,368.5 L785.3,363.5 L784.8,366 L768,370.5 Z" stroke-width="1.56" fill="#000" />
<path d="M772,362 L784,360 L784.5,362 L772.5,364 Z" stroke-width="1.30" fill="#000" />
<path d="M784.1,371.5 L794,369 L794.5,372 L785,374 Z" stroke-width="1.30" fill="#000" />
<path d="M762.5,386 L768,389 M766,392 L771,395" stroke-width="1.69" fill="none" />
<path d="M767.5,396 L783,392.5 L782.5,395 L768,398.5 Z" stroke-width="1.43" fill="#000" />
<path d="M784.5,390.5 L795,393.5 L794,396 L784,393.5 Z" stroke-width="1.30" fill="none" />
<path d="M772,401.5 Q778,399.5 785,403 L788,406 Q782,414 778,420 L773,420 Q768,415 771,410 Z" stroke-width="1.69" fill="none" />
<path d="M765,408.5 L772,412 M767.5,417 L773,419" stroke-width="1.95" fill="none" />
<ellipse cx="798.6" cy="412" rx="3.6" ry="4" stroke-width="1.82" fill="none"/>
<ellipse cx="798.6" cy="412" rx="1.6" ry="1.8" stroke-width="1.30" fill="none"/>
<path d="M786,409 L793,411 L792,417 L785,415 Z" stroke-width="1.43" fill="none" />
<path d="M770,423 L779,421 L781,431 L772,433 Z M783,422 L791,420.5 L792,430 L784.5,431.5 Z" stroke-width="1.56" fill="none" />
<path d="M775,437 L787,435 L788.5,447 L777,449 Z M789,438 L795,437 L795.5,447 L790,448 Z" stroke-width="1.56" fill="none" />
<path d="M766,427 L768,440 M768,446 L772,452" stroke-width="1.56" fill="none" />
<path d="M778.5,452.5 L791,457 M778,455.5 L790,460" stroke-width="1.56" fill="none" />
<path d="M704.1,456.3 L716,462 Q720,465.5 717,469 L705,463.5 Q700,460 704.1,456.3 Z" stroke-width="1.56" fill="none" />
<ellipse cx="716.5" cy="465.5" rx="2.5" ry="3.2" stroke-width="1.43" fill="none"/>
<path d="M712,467 L737,479 Q742,484 737,486.5 L712,474" stroke-width="1.69" fill="none" />
<path d="M720,474.5 L745,485.5" stroke-width="1.30" fill="none" />
<ellipse cx="738.5" cy="483" rx="3.6" ry="3.9" stroke-width="1.82" fill="none"/>
<ellipse cx="738.5" cy="483" rx="1.6" ry="1.8" stroke-width="1.30" fill="none"/>
<ellipse cx="722.5" cy="470.5" rx="2.5" ry="2.8" stroke-width="1.43" fill="none"/>
<path d="M724,456 Q722,449 728,449 M727,459 L739,459.5 L740,462 L728,462" stroke-width="1.43" fill="none" />
<path d="M744.5,465 Q749,458 758,458 L766,461 Q770,466 765,469 L752,471 Q744,470 744.5,465 Z" stroke-width="1.69" fill="none" />
<ellipse cx="748" cy="466.5" rx="2.4" ry="2.7" stroke-width="1.43" fill="none"/>
<ellipse cx="764.5" cy="462.5" rx="2.4" ry="2.7" stroke-width="1.43" fill="none"/>
<path d="M751,462 Q757,459.5 762,463 M751.5,466 Q757,463.5 762,466" stroke-width="1.43" fill="none" />
<path d="M768,466 L779,469.5 Q784,474 779,477.5 L767,474" stroke-width="1.69" fill="none" />
<ellipse cx="780" cy="473.5" rx="2.4" ry="2.8" stroke-width="1.43" fill="none"/>
<path d="M753,472 L764,476 L776,477 M752,476 L770,481" stroke-width="1.43" fill="none" />
<path d="M687.1,476.9 L716.2,468.4 M683.5,495 L705.3,508 L742.8,493.8" stroke-width="1.69" fill="none" />
<path d="M681,478 Q688,477 690,482 L690,496 Q687,499 683,498" stroke-width="1.69" fill="none" />
<path d="M695,488.5 L719,484 M694,492 L718,488" stroke-width="1.43" fill="none" />
<path d="M696,487 Q694,489.5 696,492" stroke-width="1.30" fill="none" />
<path d="M820,320 L847,315.5 L848,323.5 L821,328 Z" stroke-width="1.56" fill="none" />
<line x1="822" y1="320" x2="822.8" y2="327.5" stroke-width="1.17"/>
<line x1="825" y1="320" x2="825.8" y2="327.5" stroke-width="1.17"/>
<line x1="828" y1="320" x2="828.8" y2="327.5" stroke-width="1.17"/>
<line x1="831" y1="320" x2="831.8" y2="327.5" stroke-width="1.17"/>
<line x1="834" y1="320" x2="834.8" y2="327.5" stroke-width="1.17"/>
<path d="M847,314.5 Q849,312.5 852,313 Q856.5,315 856.5,320 Q856,325 852,326 Q849,326.5 848,324.5" stroke-width="1.82" fill="none" />
<line x1="851.5" y1="314.5" x2="851.5" y2="325.5" stroke-width="1.17"/>
<path d="M866.25,338 L843.75,341.25 L843.75,330" stroke-width="1.30" fill="none" />
<line x1="807" y1="327.5" x2="820" y2="324" stroke-width="1.30"/>
<path d="M800,317 L915.75,296.25 L1065.75,366.25 L1060.75,443.75" stroke-width="1.43" fill="none" />
<line x1="1043.25" y1="321.25" x2="994.5" y2="332.5" stroke-width="1.30"/>
<line x1="788" y1="327" x2="1030.75" y2="453.75" stroke-width="1.30"/>
<path d="M896.25,354.5 L820.6,374.1 L815.4,456.5 L824.7,460.6" stroke-width="1.30" fill="none" />
<line x1="943.25" y1="378.75" x2="871" y2="396.8" stroke-width="1.30"/>
<line x1="780.6" y1="380.6" x2="847.3" y2="413.2" stroke-width="1.30"/>
<path d="M845.1,393.4 Q846,389.6 851.4,389.4 L862.9,390 Q866.4,391 866.4,395.7 L864.1,432.5 Q862,435.5 858.3,434.8 L855.5,432.5 Z" stroke-width="1.95" fill="none" />
<path d="M848,394 L857.8,432.5" stroke-width="1.43" fill="none" />
<ellipse cx="861" cy="418" rx="1.5" ry="1.8" stroke-width="1.43" fill="none"/>
<ellipse cx="861" cy="430" rx="1.5" ry="1.8" stroke-width="1.43" fill="none"/>
<path d="M864.1,409.5 L868.7,408.4 L867.5,460.2 L856,455.6 L857.2,434.8" stroke-width="1.82" fill="none" />
<path d="M868.7,408.4 L872.1,409.5 L874.4,411.8 L883.6,413 L888.3,414.1 L886,424.5 L889.4,436 L886,446.3 L874.4,451 L871,454.4 L867.5,460.2" stroke-width="1.82" fill="none" />
<path d="M867,399.7 L875.6,402.6 L875.6,408.4 M867,399.7 L866,405" stroke-width="1.56" fill="none" />
<path d="M859,451 L860,452 M864,455 L865,456" stroke-width="1.30" fill="none" />
<path d="M886,426 Q891,431 888,440" stroke-width="2.34" fill="none" />
<path d="M888.3,416 Q899,417 904,427 Q908,440 902,450 L847,510" stroke-width="1.82" fill="none" />
<path d="M888.3,419.5 Q897,420.5 901,429 Q904,440 899,448.5 L843.5,507.5" stroke-width="2.47" fill="none" />
<path d="M850.3,423.3 Q839,423 836.5,428 L833,452" stroke-width="1.69" fill="none" />
<path d="M851.4,426.5 Q845,427 842.2,431.4 L839.9,452" stroke-width="2.86" fill="none" />
<path d="M826,455 Q825,451 830,451 L844,451 Q848,452 847.5,456 L846.3,484 Q846,488 841,488 L828,488 Q824,487 824.5,483 Z" stroke-width="1.82" fill="none" />
<path d="M826,455 Q836,459 847.5,456" stroke-width="1.30" fill="none" />
<path d="M831,487.5 L829.5,493 Q828,497 822,496 L807,491 Q802,490.5 798.7,496" stroke-width="1.82" fill="none" />
<path d="M838.5,487.5 L836.5,503 Q835,507 829,506.5 L812,504.5 L808,507" stroke-width="2.60" fill="none" />
<path d="M784.3,504.7 L791.5,494 L811.9,508.5 L804,523 Z" stroke-width="1.82" fill="url(#dots)" />
<path d="M784.3,504.7 L791.5,494 L795,496.5 L788,507 Z" stroke-width="1.56" fill="#fff" />
<ellipse cx="797" cy="503" rx="1.7" ry="1.7" stroke-width="1.30" fill="none"/>
<ellipse cx="802.5" cy="507" rx="1.7" ry="1.7" stroke-width="1.30" fill="none"/>
<ellipse cx="798.5" cy="511.5" rx="1.7" ry="1.7" stroke-width="1.30" fill="none"/>
<ellipse cx="805" cy="513" rx="1.7" ry="1.7" stroke-width="1.30" fill="none"/>
<ellipse cx="800.5" cy="517" rx="1.7" ry="1.7" stroke-width="1.30" fill="none"/>
<ellipse cx="807" cy="509" rx="1.7" ry="1.7" stroke-width="1.30" fill="none"/>
<line x1="707.5" y1="538.75" x2="788.75" y2="513.75" stroke-width="1.30"/>
<path d="M821.8,523.6 L788.2,538.1 L798.2,544.5" stroke-width="1.30" fill="none" />
<path d="M798.5,547 L816,553 L815,557 L797.5,550.5 Z" stroke-width="1.56" fill="none" />
<line x1="801" y1="548" x2="800.2" y2="552" stroke-width="1.04"/>
<line x1="804" y1="548" x2="803.2" y2="552" stroke-width="1.04"/>
<line x1="807" y1="548" x2="806.2" y2="552" stroke-width="1.04"/>
<line x1="810" y1="548" x2="809.2" y2="552" stroke-width="1.04"/>
<ellipse cx="818" cy="556" rx="3.5" ry="4" stroke-width="1.69" fill="none"/>
<line x1="816" y1="553.5" x2="820" y2="558.5" stroke-width="1.17"/>
<line x1="740" y1="572.5" x2="801.25" y2="555" stroke-width="1.30"/>
<line x1="752" y1="485" x2="863.5" y2="534.5" stroke-width="1.30"/>
<line x1="752" y1="490" x2="987" y2="633.75" stroke-width="1.30"/>
<path d="M838.2,541.9 L852,541.9 L851.7,550 L849.9,606.2 L840.8,606.2 L838.6,550 Z" stroke-width="1.82" fill="url(#dots)" />
<path d="M832.8,519 L844.2,515.5 L856.8,519 L856.8,526.5 L844.2,530 L832.8,526.5 Z" stroke-width="1.82" fill="url(#dots)" />
<path d="M833,518 L845,522 L857,519 M845,522 L845,530" stroke-width="1.30" fill="none" />
<path d="M834.6,530 Q844.5,534 855,530 L854.5,541.9 Q846,544 838.2,541.9 Z" stroke-width="1.69" fill="url(#dots)" />
<path d="M840,510 Q844.5,508 849,510 L849,520 L840,520 Z" stroke-width="1.69" fill="url(#dots)" />
<path d="M841.8,606.2 L849.9,606.2 L849.9,610.8 L841.8,610.8 Z" stroke-width="1.56" fill="none" />
<path d="M842.7,610.8 L849,610.8 L849,633.5 L842.7,633.5 Z" stroke-width="1.56" fill="url(#dots)" />
<line x1="844.5" y1="633.5" x2="845.5" y2="652" stroke-width="1.30"/>
<line x1="847.5" y1="633.5" x2="848.7" y2="652" stroke-width="1.30"/>
<line x1="792.5" y1="600" x2="837.5" y2="587.5" stroke-width="1.30"/>
<path d="M849.3,652.4 C867.3,769.4 908.9,806.4 974,795.5" stroke-width="8.45" fill="none" />
<path d="M849.3,652.4 C867.3,769.4 908.9,806.4 974,795.5" stroke-width="4.68" fill="none" stroke="url(#dots)"/>
<path d="M927.3,792.2 L928.6,763.5 L1002.2,754.7 L1001.7,784.7" stroke-width="1.30" fill="none" />
<line x1="954.3" y1="742.3" x2="954.3" y2="759.7" stroke-width="1.30"/>
<path d="M973.5,789.7 L984.6,788.3 L984.6,799.5 L973.5,800.2 Z" stroke-width="1.82" fill="#fff" />
<line x1="976" y1="789.2" x2="976" y2="800" stroke-width="1.17"/>
<line x1="978.5" y1="789.2" x2="978.5" y2="800" stroke-width="1.17"/>
<line x1="981" y1="789.2" x2="981" y2="800" stroke-width="1.17"/>
<line x1="983" y1="789.2" x2="983" y2="800" stroke-width="1.17"/>
<path d="M984.6,787.9 L1006.2,784.8 Q1010,782 1015.4,778.6 Q1021,776.5 1027.8,776.6 L1034,779 L1036,798 L1031.9,798.1 L984.6,799.3 Z" stroke-width="1.82" fill="url(#dots)" />
<path d="M1013,788 Q1020,786 1028,788" stroke-width="1.30" fill="none" />
<ellipse cx="1042.1" cy="785.8" rx="11.8" ry="20.2" stroke-width="2.08" fill="#fff" transform="rotate(-6 1042.1 785.8)"/>
<path d="M1036,768 Q1045,767 1046,776 M1045,766.5 Q1054,776 1050,800" stroke-width="1.56" fill="none" />
<path d="M1036.5,771 Q1033,786 1037,802" stroke-width="1.43" fill="none" />
<path d="M1048,788 L1052,789" stroke-width="2.60" fill="none" />
<path d="M1052.4,775 L1057.5,774.8 L1057.5,778.5 L1052.4,778.8 Z" stroke-width="1.56" fill="none" />
<path d="M1047.3,787 L1069.3,786.5 L1069.3,790.3 L1047.3,791 Z" stroke-width="1.69" fill="#fff" />
<path d="M1042,796 L1049,797 M1040,800 L1050,799" stroke-width="1.43" fill="none" />
<path d="M866,532 Q866,528.5 871,528.5 L878,530 Q884,536 890,533 L893,530.5 Q897,528 900,531 Q902,536 897,539 L891,540 Q884,543 878,541 L874,544 Q867,545 866,540 Z" stroke-width="1.82" fill="none" />
<ellipse cx="871" cy="538" rx="2.7" ry="2.7" stroke-width="1.43" fill="none"/>
<ellipse cx="895" cy="534" rx="2.5" ry="2.5" stroke-width="1.43" fill="none"/>
<path d="M878,530 Q881,537 878,541 M884,537 Q887,540 891,536" stroke-width="1.30" fill="none" />
<line x1="872.6" y1="541.8" x2="890.8" y2="549.9" stroke-width="1.30"/>
<line x1="901.7" y1="530" x2="928.9" y2="531.8" stroke-width="1.30"/>
<path d="M889,548 L902,554 L900.5,558 L888,552 Z" stroke-width="1.56" fill="none" />
<line x1="891" y1="549" x2="890" y2="553.5" stroke-width="1.04"/>
<line x1="894" y1="549" x2="893" y2="553.5" stroke-width="1.04"/>
<line x1="897" y1="549" x2="896" y2="553.5" stroke-width="1.04"/>
<ellipse cx="904.5" cy="557.5" rx="4" ry="4.2" stroke-width="1.69" fill="none"/>
<line x1="902.5" y1="554.5" x2="906.5" y2="560.5" stroke-width="1.17"/>
<line x1="910.8" y1="553.6" x2="928" y2="553.6" stroke-width="1.30"/>
<path d="M1012,416.25 L948.25,432.5 L948.25,452.5" stroke-width="1.30" fill="none" />
<path d="M937,455 L951,452 L956.3,454 L955,483.5 L941,486 L936.4,484 Z" stroke-width="1.69" fill="url(#dots)" />
<path d="M937,455 L942,457 L956.3,454 M942,457 L941,486" stroke-width="1.30" fill="none" />
<line x1="955" y1="468" x2="979.9" y2="482" stroke-width="1.30"/>
<path d="M973.8,466.9 L1070.5,449.4 Q1077,449 1077.5,455 Q1077,459 1074.8,460.3 L1070.5,465.4 L1069.7,483.6 L1071.9,541.7 L1071.1,559.5 L1068,594.1 L1068.9,628.7 Q1067,636 1063.2,638.2 L1053.8,641.3 L994,679.1 L964.2,664.9 L966,660 L988,667 L987.7,655 L959.4,644.5 L961,640 L986.2,631.9 L978.3,597.3 L975.5,527 L970.9,516.3 L970.9,513.4 L977.4,512.7 L980.3,472 L974.5,469.8 Z" stroke-width="2.08" fill="none" />
<path d="M974.5,469.8 L993.4,474.9 L997,483.6 L1000,527.2 L994,679.1 M993.4,474.9 Q991,478 990.5,490 L987.7,679.1" stroke-width="1.56" fill="none" />
<path d="M977.4,512.7 L994.9,527.2 M970.9,516.3 L994.5,530" stroke-width="1.56" fill="none" />
<path d="M1000,483.6 L1058.8,469.8" stroke-width="1.69" fill="none" />
<path d="M1000,483.6 L1000.7,488 L1002.2,496.7 L1006.5,498.1 L1007.2,506.9 L1003.6,508.3 L1003.6,521.4 L1009.4,524.3 L1008.3,605 Q1010,614 1017.2,616 Q1040,609 1065.7,599.8" stroke-width="1.69" fill="none" />
<path d="M1035.6,476.3 L1033.4,527.2 L1028.3,525.8 L1027.6,575 Q1027,598 1033,603 L1052,598" stroke-width="1.56" fill="none" />
<path d="M1035,605 Q1050,601 1066,598" stroke-width="1.30" fill="none" />
<ellipse cx="989.8" cy="492.3" rx="3.2" ry="3.8" stroke-width="1.69" fill="none"/>
<ellipse cx="989.8" cy="492.3" rx="1.5" ry="1.9" stroke-width="1.30" fill="none"/>
<ellipse cx="989.1" cy="514.1" rx="4.2" ry="4.8" stroke-width="1.69" fill="none"/>
<ellipse cx="989.1" cy="514.1" rx="2" ry="2.3" stroke-width="1.30" fill="none"/>
<ellipse cx="984.5" cy="657" rx="3.2" ry="3.8" stroke-width="1.56" fill="none"/>
<ellipse cx="984.5" cy="657" rx="1.5" ry="1.9" stroke-width="1.17" fill="none"/>
<path d="M1003.8,649.2 L1009,648 L1009,651 L1008.3,660 L1004,661 Z" stroke-width="1.43" fill="none" />
<path d="M1009,651 L1044.2,643.8 Q1046,646 1043,648 L1009,656" stroke-width="1.43" fill="none" />
<ellipse cx="1015" cy="652.5" rx="2.2" ry="2.4" stroke-width="1.30" fill="none"/>
<ellipse cx="1060.8" cy="468.75" rx="3" ry="3.3" stroke-width="1.56" fill="none"/>
<ellipse cx="1067" cy="556.25" rx="2.6" ry="3" stroke-width="1.56" fill="none"/>
<ellipse cx="1053.5" cy="644" rx="3" ry="3.3" stroke-width="1.56" fill="none"/>
<line x1="1060.8" y1="468.75" x2="1090" y2="484" stroke-width="1.30"/>
<g transform="translate(1090.75 484.5) rotate(24.04)"><path d="M0,0 L12.5,-2.6 L27.6,-2.6 L27.6,2.6 L12.5,2.6 Z" stroke-width="1.2" fill="#fff"/><line x1="1.20" y1="-0.42" x2="2.80" y2="0.42" stroke-width="1.1"/><line x1="3.10" y1="-0.81" x2="4.70" y2="0.81" stroke-width="1.1"/><line x1="5.00" y1="-1.21" x2="6.60" y2="1.21" stroke-width="1.1"/><line x1="6.90" y1="-1.61" x2="8.50" y2="1.61" stroke-width="1.1"/><line x1="8.80" y1="-2.00" x2="10.40" y2="2.00" stroke-width="1.1"/><line x1="10.70" y1="-2.40" x2="12.30" y2="2.40" stroke-width="1.1"/><line x1="12.60" y1="-2.60" x2="14.20" y2="2.60" stroke-width="1.1"/><line x1="14.50" y1="-2.60" x2="16.10" y2="2.60" stroke-width="1.1"/><line x1="16.40" y1="-2.60" x2="18.00" y2="2.60" stroke-width="1.1"/><line x1="18.30" y1="-2.60" x2="19.90" y2="2.60" stroke-width="1.1"/><line x1="20.20" y1="-2.60" x2="21.80" y2="2.60" stroke-width="1.1"/><line x1="22.10" y1="-2.60" x2="23.70" y2="2.60" stroke-width="1.1"/><line x1="24.00" y1="-2.60" x2="25.60" y2="2.60" stroke-width="1.1"/><ellipse cx="31.3" cy="0" rx="4.3" ry="4.9" stroke-width="1.6" fill="#fff"/><line x1="29.1" y1="-3.4" x2="33.6" y2="3.4" stroke-width="1.1"/></g>
<line x1="1119.5" y1="482.5" x2="1104.5" y2="485" stroke-width="1.30"/>
<line x1="1067" y1="556.25" x2="1089" y2="567" stroke-width="1.30"/>
<g transform="translate(1089.5 567) rotate(28.37)"><path d="M0,0 L9.9,-2.6 L20.4,-2.6 L20.4,2.6 L9.9,2.6 Z" stroke-width="1.2" fill="#fff"/><line x1="1.20" y1="-0.52" x2="2.80" y2="0.52" stroke-width="1.1"/><line x1="3.10" y1="-1.02" x2="4.70" y2="1.02" stroke-width="1.1"/><line x1="5.00" y1="-1.52" x2="6.60" y2="1.52" stroke-width="1.1"/><line x1="6.90" y1="-2.01" x2="8.50" y2="2.01" stroke-width="1.1"/><line x1="8.80" y1="-2.51" x2="10.40" y2="2.51" stroke-width="1.1"/><line x1="10.70" y1="-2.60" x2="12.30" y2="2.60" stroke-width="1.1"/><line x1="12.60" y1="-2.60" x2="14.20" y2="2.60" stroke-width="1.1"/><line x1="14.50" y1="-2.60" x2="16.10" y2="2.60" stroke-width="1.1"/><line x1="16.40" y1="-2.60" x2="18.00" y2="2.60" stroke-width="1.1"/><line x1="18.30" y1="-2.60" x2="19.90" y2="2.60" stroke-width="1.1"/><ellipse cx="24.1" cy="0" rx="4.3" ry="4.9" stroke-width="1.6" fill="#fff"/><line x1="21.9" y1="-3.4" x2="26.4" y2="3.4" stroke-width="1.1"/></g>
<line x1="1120.75" y1="562.5" x2="1099.5" y2="566.25" stroke-width="1.30"/>
<line x1="1015.75" y1="651.25" x2="1045" y2="667" stroke-width="1.30"/>
<g transform="translate(1045.75 667) rotate(31.30)"><path d="M0,0 L12.8,-2.6 L28.6,-2.6 L28.6,2.6 L12.8,2.6 Z" stroke-width="1.2" fill="#fff"/><line x1="1.20" y1="-0.41" x2="2.80" y2="0.41" stroke-width="1.1"/><line x1="3.10" y1="-0.79" x2="4.70" y2="0.79" stroke-width="1.1"/><line x1="5.00" y1="-1.18" x2="6.60" y2="1.18" stroke-width="1.1"/><line x1="6.90" y1="-1.56" x2="8.50" y2="1.56" stroke-width="1.1"/><line x1="8.80" y1="-1.95" x2="10.40" y2="1.95" stroke-width="1.1"/><line x1="10.70" y1="-2.34" x2="12.30" y2="2.34" stroke-width="1.1"/><line x1="12.60" y1="-2.60" x2="14.20" y2="2.60" stroke-width="1.1"/><line x1="14.50" y1="-2.60" x2="16.10" y2="2.60" stroke-width="1.1"/><line x1="16.40" y1="-2.60" x2="18.00" y2="2.60" stroke-width="1.1"/><line x1="18.30" y1="-2.60" x2="19.90" y2="2.60" stroke-width="1.1"/><line x1="20.20" y1="-2.60" x2="21.80" y2="2.60" stroke-width="1.1"/><line x1="22.10" y1="-2.60" x2="23.70" y2="2.60" stroke-width="1.1"/><line x1="24.00" y1="-2.60" x2="25.60" y2="2.60" stroke-width="1.1"/><line x1="25.90" y1="-2.60" x2="27.50" y2="2.60" stroke-width="1.1"/><ellipse cx="32.3" cy="0" rx="4.3" ry="4.9" stroke-width="1.6" fill="#fff"/><line x1="30.1" y1="-3.4" x2="34.6" y2="3.4" stroke-width="1.1"/></g>
<line x1="1052" y1="645" x2="1080" y2="660" stroke-width="1.30"/>
<g transform="translate(1080.75 660) rotate(28.81)"><path d="M0,0 L12.0,-2.6 L26.2,-2.6 L26.2,2.6 L12.0,2.6 Z" stroke-width="1.2" fill="#fff"/><line x1="1.20" y1="-0.43" x2="2.80" y2="0.43" stroke-width="1.1"/><line x1="3.10" y1="-0.85" x2="4.70" y2="0.85" stroke-width="1.1"/><line x1="5.00" y1="-1.26" x2="6.60" y2="1.26" stroke-width="1.1"/><line x1="6.90" y1="-1.67" x2="8.50" y2="1.67" stroke-width="1.1"/><line x1="8.80" y1="-2.08" x2="10.40" y2="2.08" stroke-width="1.1"/><line x1="10.70" y1="-2.50" x2="12.30" y2="2.50" stroke-width="1.1"/><line x1="12.60" y1="-2.60" x2="14.20" y2="2.60" stroke-width="1.1"/><line x1="14.50" y1="-2.60" x2="16.10" y2="2.60" stroke-width="1.1"/><line x1="16.40" y1="-2.60" x2="18.00" y2="2.60" stroke-width="1.1"/><line x1="18.30" y1="-2.60" x2="19.90" y2="2.60" stroke-width="1.1"/><line x1="20.20" y1="-2.60" x2="21.80" y2="2.60" stroke-width="1.1"/><line x1="22.10" y1="-2.60" x2="23.70" y2="2.60" stroke-width="1.1"/><line x1="24.00" y1="-2.60" x2="25.60" y2="2.60" stroke-width="1.1"/><ellipse cx="29.9" cy="0" rx="4.3" ry="4.9" stroke-width="1.6" fill="#fff"/><line x1="27.7" y1="-3.4" x2="32.2" y2="3.4" stroke-width="1.1"/></g>
<path d="M1114.5,640 L1073.25,646.25 L1065.75,677.5" stroke-width="1.30" fill="none" />
<line x1="1094.5" y1="643.75" x2="1094.5" y2="661.25" stroke-width="1.30"/>
<path d="M1003.25,650 L1006.5,707.5 L1017,707.5" stroke-width="1.30" fill="none" />
<path d="M1016.3,700.5 L1040.6,695.5 L1040.6,702.5 L1016.3,707.5 Z" stroke-width="1.69" fill="none" />
<line x1="1019" y1="699.6600000000001" x2="1019.8" y2="706.76" stroke-width="1.30"/>
<line x1="1021.5" y1="699.1600000000001" x2="1022.3" y2="706.26" stroke-width="1.30"/>
<line x1="1024" y1="698.6600000000001" x2="1024.8" y2="705.76" stroke-width="1.30"/>
<line x1="1026.5" y1="698.1600000000001" x2="1027.3" y2="705.26" stroke-width="1.30"/>
<line x1="1029" y1="697.6600000000001" x2="1029.8" y2="704.76" stroke-width="1.30"/>
<line x1="1031.5" y1="697.1600000000001" x2="1032.3" y2="704.26" stroke-width="1.30"/>
<path d="M1040.6,694.5 L1046,692.8 L1047,704 L1040.6,704.5 Z" stroke-width="1.82" fill="#fff" />
<ellipse cx="1046.5" cy="698.4" rx="4.2" ry="5.8" stroke-width="1.95" fill="#fff"/>
<path d="M1045,695.5 L1048.5,695.5 L1049.5,698.5 L1048,701.5 L1045,701.5 L1044,698.5 Z" stroke-width="1.30" fill="none" />
<path d="M160,555 L180,551 L186.25,553.5 L186,557 Q178,556 172,560 Q167,566 170,572 Q173,578 178.75,577.25 Q186,576 191.25,569.75 L190,568.5 L206,565 L212.5,566 L211.25,574.75 Q204,580 202.5,586 L200,601 L200,628.5 Q195,634 186.25,633.5 Q178,634 173.75,628.5 L173.75,606 Q173,596 167,588 Q160,578 160,566 Z" stroke-width="1.95" fill="none" />
<path d="M160,555 L166,559 L166.25,566 M166,559 L186,557" stroke-width="1.43" fill="none" />
<path d="M168.5,558 Q166,570 172,575 M172,557.5 Q170,568 176,574 M176,557 Q175,567 180,572" stroke-width="1.43" fill="none" />
<path d="M190,568.5 L193,571 L212.5,566 M193,571 L193,574" stroke-width="1.30" fill="none" />
<path d="M192.5,573.5 Q188,582 181.25,592.25" stroke-width="1.43" fill="none" />
<path d="M173.75,628.5 Q186,622 200,628.5" stroke-width="1.30" fill="none" />
<line x1="201.25" y1="557.25" x2="201.25" y2="567.25" stroke-width="1.17"/>
<line x1="107.5" y1="621.5" x2="171" y2="602.75" stroke-width="1.30"/>
<line x1="186" y1="634.75" x2="186" y2="653.5" stroke-width="1.30"/>
<path d="M177.5,654 Q185,650.5 192.5,654 L192.5,661 L177.5,661 Z" stroke-width="1.69" fill="none" />
<path d="M178,655.5 Q185,657.0 192,655.5" stroke-width="1.17" fill="none" />
<path d="M178,658 Q185,659.5 192,658" stroke-width="1.17" fill="none" />
<path d="M178,660.5 Q185,662.0 192,660.5" stroke-width="1.17" fill="none" />
<path d="M175,663 L180,660.5 L191,660.5 L196,663 L196,675 L191,677.5 L180,677.5 L175,675 Z" stroke-width="1.82" fill="#fff" />
<path d="M175,663 L180,665.5 L191,665.5 L196,663 M180,665.5 L180,677.5 M191,665.5 L191,677.5" stroke-width="1.30" fill="none" />
<path d="M148.6,673 A36.9,15.6 0 0 0 222.4,673 L222.4,676 A36.9,15.6 0 0 1 148.6,676 Z" stroke-width="1.95" fill="#fff" />
<path d="M148.6,673 A36.9,15.6 0 0 1 175,658.5 M196,658.5 A36.9,15.6 0 0 1 222.4,673" stroke-width="1.95" fill="none" />
<path d="M167.5,689.5 Q185,692.5 203.75,689.5 L204.5,695 Q185,699 166.25,695 Z" stroke-width="1.69" fill="none" />
<path d="M166.25,695 Q163,732 168,792.5 M204.5,695 Q208,732 202,792.5" stroke-width="1.95" fill="none" />
<path d="M169.6,698 Q167.75199999999998,745 171.14,790" stroke-width="1.10" fill="none" />
<path d="M171.4,698 Q169.768,745 172.76,790" stroke-width="1.10" fill="none" />
<path d="M174.9,698 Q173.68800000000002,745 175.91,790" stroke-width="1.10" fill="none" />
<path d="M176.70000000000002,698 Q175.704,745 177.53000000000003,790" stroke-width="1.10" fill="none" />
<path d="M180.2,698 Q179.624,745 180.67999999999998,790" stroke-width="1.10" fill="none" />
<path d="M182.0,698 Q181.64,745 182.3,790" stroke-width="1.10" fill="none" />
<path d="M185.5,698 Q185.56,745 185.45,790" stroke-width="1.10" fill="none" />
<path d="M187.3,698 Q187.57600000000002,745 187.07000000000002,790" stroke-width="1.10" fill="none" />
<path d="M190.79999999999998,698 Q191.49599999999998,745 190.21999999999997,790" stroke-width="1.10" fill="none" />
<path d="M192.6,698 Q193.512,745 191.84,790" stroke-width="1.10" fill="none" />
<path d="M196.1,698 Q197.432,745 194.99,790" stroke-width="1.10" fill="none" />
<path d="M197.9,698 Q199.448,745 196.61,790" stroke-width="1.10" fill="none" />
<path d="M200.6,698 Q202.47199999999998,745 199.04,790" stroke-width="1.10" fill="none" />
<path d="M202.4,698 Q204.488,745 200.66,790" stroke-width="1.10" fill="none" />
<path d="M167.5,697 Q170,694.5 172.5,697 Q175,694.5 177.5,697 Q180,694.5 183,697 Q186,694.5 189,697 Q192,694.5 195,697 Q198,694.5 201,697 Q203,695 204.5,697" stroke-width="1.30" fill="none" />
<path d="M166,790 Q185,796 204,790 L207,797" stroke-width="1.43" fill="none" />
<path d="M168,792.5 Q185,797 202,792.5" stroke-width="1.43" fill="none" />
<ellipse cx="185" cy="801.25" rx="21.5" ry="8.5" stroke-width="1.95" fill="#fff"/>
<path d="M163.5,801.25 L164.5,805 Q185,813.5 205.5,805 L206.5,801.25" stroke-width="1.95" fill="none" />
<path d="M168,796 Q185,802 202,796" stroke-width="1.30" fill="none" />
<line x1="106" y1="749" x2="164" y2="733" stroke-width="1.30"/>
<g transform="translate(0 0)">
<path d="M317.5,562 Q318,557.5 323,557.5 L334,558 Q338.5,559 338.75,566.25 L338,602.5 L332.5,603.75 L325,600 Z" stroke-width="1.95" fill="none" />
<path d="M321,563 L329,599.5" stroke-width="1.30" fill="none" />
<path d="M330,578.75 L342.5,577.5 L341.25,628.75 L331.25,625 Z" stroke-width="1.69" fill="none" />
<path d="M336.25,568.75 L346.25,567.5 L347.5,578.75 L360,581.25 L361.25,592.5 L357.5,600 L358.75,612.5 L350,621.25 L342.5,623.75" stroke-width="1.69" fill="none" />
<path d="M342.5,577.5 L336.5,577 L336.25,568.75" stroke-width="1.43" fill="none" />
<ellipse cx="335" cy="587" rx="1.6" ry="1.8" stroke-width="1.30" fill="none"/>
<ellipse cx="335" cy="598" rx="1.6" ry="1.8" stroke-width="1.30" fill="none"/>
<path d="M333,610 L334,612 M335,618 L336,620" stroke-width="1.30" fill="none" />
<path d="M352,583 L355,585 L352,590" stroke-width="1.43" fill="none" />
</g>
<g transform="translate(0 0)">
<path d="M361.25,583.75 Q374,583 378.75,600 Q379,612 372,624 L343.75,652.5" stroke-width="1.95" fill="none" />
<path d="M361,588 Q371,588 374.5,601 Q374.5,612 368,622 L340.5,650.5" stroke-width="1.95" fill="none" />
<path d="M325,593.75 Q313.75,594 310.5,602.5 L309.25,662.5 Q308,669 302,668.5 L290,665.5 Q284,664 279,669" stroke-width="2.08" fill="none" />
<path d="M325,598 Q316.5,598.5 315.5,606 L315.5,666 Q314,675 304,673.5 L292,670.5 Q287,670 283,675" stroke-width="2.08" fill="none" />
<path d="M262.5,677.5 L268.75,667.5 L288.75,683.75 L282.5,695 Z" stroke-width="1.69" fill="url(#dots)" />
<path d="M262.5,677.5 L268.75,667.5 L272,670 L265.5,680 Z" stroke-width="1.43" fill="#fff" />
<ellipse cx="272" cy="678" rx="1.9" ry="2.0" stroke-width="1.17" fill="none"/>
<ellipse cx="277" cy="682.5" rx="1.9" ry="2.0" stroke-width="1.17" fill="none"/>
<ellipse cx="282" cy="684" rx="1.9" ry="2.0" stroke-width="1.17" fill="none"/>
<ellipse cx="274" cy="686" rx="1.9" ry="2.0" stroke-width="1.17" fill="none"/>
<ellipse cx="279" cy="689" rx="1.9" ry="2.0" stroke-width="1.17" fill="none"/>
<ellipse cx="270" cy="683" rx="1.9" ry="2.0" stroke-width="1.17" fill="none"/>
<ellipse cx="284" cy="689" rx="1.9" ry="2.0" stroke-width="1.17" fill="none"/>
</g>
<g transform="translate(148.75 0)">
<path d="M317.5,562 Q318,557.5 323,557.5 L334,558 Q338.5,559 338.75,566.25 L338,602.5 L332.5,603.75 L325,600 Z" stroke-width="1.95" fill="none" />
<path d="M321,563 L329,599.5" stroke-width="1.30" fill="none" />
<path d="M330,578.75 L342.5,577.5 L341.25,628.75 L331.25,625 Z" stroke-width="1.69" fill="none" />
<path d="M336.25,568.75 L346.25,567.5 L347.5,578.75 L360,581.25 L361.25,592.5 L357.5,600 L358.75,612.5 L350,621.25 L342.5,623.75" stroke-width="1.69" fill="none" />
<path d="M342.5,577.5 L336.5,577 L336.25,568.75" stroke-width="1.43" fill="none" />
<ellipse cx="335" cy="587" rx="1.6" ry="1.8" stroke-width="1.30" fill="none"/>
<ellipse cx="335" cy="598" rx="1.6" ry="1.8" stroke-width="1.30" fill="none"/>
<path d="M333,610 L334,612 M335,618 L336,620" stroke-width="1.30" fill="none" />
<path d="M352,583 L355,585 L352,590" stroke-width="1.43" fill="none" />
</g>
<g transform="translate(148.75 0)">
<path d="M361.25,583.75 Q374,583 378.75,600 Q379,612 372,624 L343.75,652.5" stroke-width="1.95" fill="none" />
<path d="M361,588 Q371,588 374.5,601 Q374.5,612 368,622 L340.5,650.5" stroke-width="1.95" fill="none" />
<path d="M325,593.75 Q313.75,594 310.5,602.5 L309.25,662.5 Q308,669 302,668.5 L290,665.5 Q284,664 279,669" stroke-width="2.08" fill="none" />
<path d="M325,598 Q316.5,598.5 315.5,606 L315.5,666 Q314,675 304,673.5 L292,670.5 Q287,670 283,675" stroke-width="2.08" fill="none" />
<path d="M262.5,677.5 L268.75,667.5 L288.75,683.75 L282.5,695 Z" stroke-width="1.69" fill="url(#dots)" />
<path d="M262.5,677.5 L268.75,667.5 L272,670 L265.5,680 Z" stroke-width="1.43" fill="#fff" />
<ellipse cx="272" cy="678" rx="1.9" ry="2.0" stroke-width="1.17" fill="none"/>
<ellipse cx="277" cy="682.5" rx="1.9" ry="2.0" stroke-width="1.17" fill="none"/>
<ellipse cx="282" cy="684" rx="1.9" ry="2.0" stroke-width="1.17" fill="none"/>
<ellipse cx="274" cy="686" rx="1.9" ry="2.0" stroke-width="1.17" fill="none"/>
<ellipse cx="279" cy="689" rx="1.9" ry="2.0" stroke-width="1.17" fill="none"/>
<ellipse cx="270" cy="683" rx="1.9" ry="2.0" stroke-width="1.17" fill="none"/>
<ellipse cx="284" cy="689" rx="1.9" ry="2.0" stroke-width="1.17" fill="none"/>
</g>
<line x1="325" y1="549.25" x2="325" y2="557.5" stroke-width="1.30"/>
<line x1="473.75" y1="549.25" x2="473.75" y2="557.5" stroke-width="1.30"/>
<line x1="288.75" y1="619.25" x2="307.5" y2="613.75" stroke-width="1.30"/>
<line x1="433.75" y1="620.5" x2="455.5" y2="614.5" stroke-width="1.30"/>
<g transform="translate(268.75 0)">
<path d="M317.5,562 Q318,557.5 323,557.5 L334,558 Q338.5,559 338.75,566.25 L338,602.5 L332.5,603.75 L325,600 Z" stroke-width="1.95" fill="none" />
<path d="M321,563 L329,599.5" stroke-width="1.30" fill="none" />
<path d="M330,578.75 L342.5,577.5 L341.25,628.75 L331.25,625 Z" stroke-width="1.69" fill="none" />
<path d="M336.25,568.75 L346.25,567.5 L347.5,578.75 L360,581.25 L361.25,592.5 L357.5,600 L358.75,612.5 L350,621.25 L342.5,623.75" stroke-width="1.69" fill="none" />
<path d="M342.5,577.5 L336.5,577 L336.25,568.75" stroke-width="1.43" fill="none" />
<ellipse cx="335" cy="587" rx="1.6" ry="1.8" stroke-width="1.30" fill="none"/>
<ellipse cx="335" cy="598" rx="1.6" ry="1.8" stroke-width="1.30" fill="none"/>
<path d="M333,610 L334,612 M335,618 L336,620" stroke-width="1.30" fill="none" />
<path d="M352,583 L355,585 L352,590" stroke-width="1.43" fill="none" />
</g>
<path d="M629,584 Q645,584 650,600 Q651,612 643,622 L632.5,632.5" stroke-width="1.95" fill="none" />
<path d="M629,588 Q641,588 645.5,601 Q646,611 639,620 L629.5,630" stroke-width="1.95" fill="none" />
<path d="M594,594 Q584,594 581.5,601 L580.5,616" stroke-width="1.95" fill="none" />
<path d="M594,598.5 Q588,599 586.5,605 L586,616" stroke-width="1.95" fill="none" />
<path d="M574,620 Q574,615.5 585,615.5 Q596,615.5 596.25,620 L596.25,650 Q596,653.75 585,653.75 Q574,653.75 573.75,650 Z" stroke-width="1.95" fill="none" />
<path d="M574,620 Q585,624 596.25,620" stroke-width="1.30" fill="none" />
<path d="M579,653.75 L579,668 Q578,673 573,672 L560,668 Q555,667 552,672" stroke-width="2.08" fill="none" />
<path d="M584,653.75 L584,672 Q582.5,677.5 576,676.5 L562,673 Q558,672.5 556,677" stroke-width="2.08" fill="none" />
<path d="M589,653.75 L589,671 Q588,680 580,679 L566,676" stroke-width="1.82" fill="none" />
<line x1="596.25" y1="646.25" x2="608.75" y2="646.25" stroke-width="1.30"/>
<g transform="translate(275 0)">
<path d="M262.5,677.5 L268.75,667.5 L288.75,683.75 L282.5,695 Z" stroke-width="1.69" fill="url(#dots)" />
<path d="M262.5,677.5 L268.75,667.5 L272,670 L265.5,680 Z" stroke-width="1.43" fill="#fff" />
<ellipse cx="272" cy="678" rx="1.9" ry="2.0" stroke-width="1.17" fill="none"/>
<ellipse cx="277" cy="682.5" rx="1.9" ry="2.0" stroke-width="1.17" fill="none"/>
<ellipse cx="282" cy="684" rx="1.9" ry="2.0" stroke-width="1.17" fill="none"/>
<ellipse cx="274" cy="686" rx="1.9" ry="2.0" stroke-width="1.17" fill="none"/>
<ellipse cx="279" cy="689" rx="1.9" ry="2.0" stroke-width="1.17" fill="none"/>
<ellipse cx="270" cy="683" rx="1.9" ry="2.0" stroke-width="1.17" fill="none"/>
<ellipse cx="284" cy="689" rx="1.9" ry="2.0" stroke-width="1.17" fill="none"/>
</g>
<line x1="577" y1="516.25" x2="675" y2="681.25" stroke-width="1.30"/>
<line x1="640.5" y1="517.5" x2="511.25" y2="761.25" stroke-width="1.30"/>
<ellipse cx="537.5" cy="707.5" rx="14.2" ry="14.2" stroke-width="2.60" fill="#fff"/>
<line x1="540" y1="694" x2="533" y2="720" stroke-width="1.69"/>
<line x1="528" y1="706" x2="548" y2="706" stroke-width="2.34"/>
<line x1="530" y1="711" x2="545" y2="711" stroke-width="2.34"/>
<line x1="532.5" y1="716" x2="542" y2="716" stroke-width="2.08"/>
<line x1="536.5" y1="699" x2="536.5" y2="706" stroke-width="1.69"/>
<line x1="535" y1="722" x2="532" y2="730" stroke-width="1.69"/>
</svg>
</body></html>
